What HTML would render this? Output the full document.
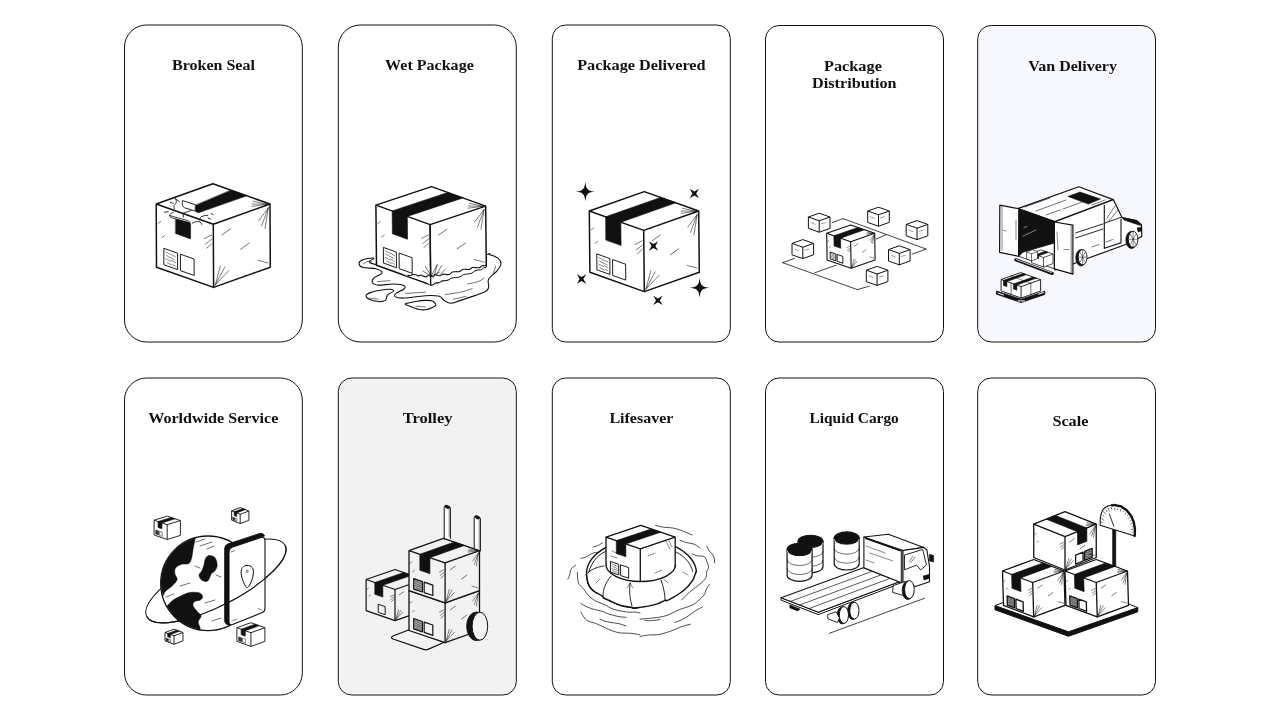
<!DOCTYPE html>
<html><head><meta charset="utf-8"><style>
html,body{margin:0;padding:0;background:#fff;width:1280px;height:720px;overflow:hidden}
svg{position:absolute;left:0;top:0;will-change:transform}
text{font-family:"Liberation Serif",serif;font-weight:bold;font-size:15.2px;fill:#111}
</style></head><body>
<svg width="1280" height="720" viewBox="0 0 1280 720">
<rect x="124.5" y="25" width="177.8" height="317" rx="22" ry="22" fill="none" stroke="#111" stroke-width="1"/>
<rect x="338.3" y="25" width="177.99999999999994" height="317" rx="22" ry="22" fill="none" stroke="#111" stroke-width="1"/>
<rect x="552.3" y="25" width="178.0" height="317" rx="13.5" ry="13.5" fill="none" stroke="#111" stroke-width="1"/>
<rect x="765.5" y="25.5" width="178.0" height="316.5" rx="13.5" ry="13.5" fill="none" stroke="#111" stroke-width="1"/>
<rect x="978.9000000000001" y="26.7" width="175.39999999999995" height="314.1" rx="12.3" ry="12.3" fill="#f7f8fd" stroke="none"/>
<rect x="977.7" y="25.5" width="177.79999999999995" height="316.5" rx="13.5" ry="13.5" fill="none" stroke="#111" stroke-width="1"/>
<rect x="124.5" y="378" width="177.8" height="317" rx="22" ry="22" fill="none" stroke="#111" stroke-width="1"/>
<rect x="339.5" y="379.2" width="175.59999999999994" height="314.6" rx="12.3" ry="12.3" fill="#f2f2f2" stroke="none"/>
<rect x="338.3" y="378" width="177.99999999999994" height="317" rx="13.5" ry="13.5" fill="none" stroke="#111" stroke-width="1"/>
<rect x="552.3" y="378" width="178.0" height="317" rx="13.5" ry="13.5" fill="none" stroke="#111" stroke-width="1"/>
<rect x="765.5" y="378" width="178.0" height="317" rx="13.5" ry="13.5" fill="none" stroke="#111" stroke-width="1"/>
<rect x="977.7" y="378" width="177.79999999999995" height="317" rx="13.5" ry="13.5" fill="none" stroke="#111" stroke-width="1"/>
<text x="172.0" y="69.9" textLength="82.9" lengthAdjust="spacingAndGlyphs">Broken Seal</text>
<text x="385.1" y="69.9" textLength="88.7" lengthAdjust="spacingAndGlyphs">Wet Package</text>
<text x="577.2" y="70.0" textLength="128.4" lengthAdjust="spacingAndGlyphs">Package Delivered</text>
<text x="824.0" y="70.8" textLength="57.9" lengthAdjust="spacingAndGlyphs">Package</text>
<text x="812.1" y="87.8" textLength="84.5" lengthAdjust="spacingAndGlyphs">Distribution</text>
<text x="1028.3" y="70.8" textLength="88.6" lengthAdjust="spacingAndGlyphs">Van Delivery</text>
<text x="148.2" y="422.9" textLength="130.1" lengthAdjust="spacingAndGlyphs">Worldwide Service</text>
<text x="402.8" y="422.8" textLength="49.7" lengthAdjust="spacingAndGlyphs">Trolley</text>
<text x="609.4" y="422.8" textLength="64.0" lengthAdjust="spacingAndGlyphs">Lifesaver</text>
<text x="809.5" y="423.0" textLength="89.3" lengthAdjust="spacingAndGlyphs">Liquid Cargo</text>
<text x="1052.4" y="425.8" textLength="36.0" lengthAdjust="spacingAndGlyphs">Scale</text>
<g>
<polygon points="212.90,183.80 156.20,204.00 156.50,267.20 213.60,287.40 270.30,267.20 270.00,204.00" fill="#fff" stroke="#111" stroke-width="1.5" stroke-linejoin="round" />
<polyline points="156.20,204.00 213.30,224.20 270.00,204.00" fill="none" stroke="#111" stroke-width="1.5" stroke-linejoin="round"/>
<line x1="213.30" y1="224.20" x2="213.60" y2="287.40" stroke="#111" stroke-width="1.5" stroke-linecap="round" />
<polygon points="163.82,248.34 177.53,253.19 177.60,269.62 163.90,264.77" fill="#fff" stroke="#111" stroke-width="0.95" stroke-linejoin="round" />
<line x1="165.89" y1="252.02" x2="171.38" y2="254.78" stroke="#111" stroke-width="0.49500000000000005" stroke-linecap="round" />
<line x1="172.06" y1="254.86" x2="175.49" y2="256.90" stroke="#111" stroke-width="0.49500000000000005" stroke-linecap="round" />
<line x1="166.59" y1="255.55" x2="170.02" y2="257.59" stroke="#111" stroke-width="0.49500000000000005" stroke-linecap="round" />
<line x1="170.71" y1="257.66" x2="174.82" y2="259.94" stroke="#111" stroke-width="0.49500000000000005" stroke-linecap="round" />
<line x1="165.92" y1="258.92" x2="170.72" y2="261.44" stroke="#111" stroke-width="0.49500000000000005" stroke-linecap="round" />
<line x1="171.40" y1="260.53" x2="175.52" y2="262.81" stroke="#111" stroke-width="0.49500000000000005" stroke-linecap="round" />
<line x1="167.31" y1="262.70" x2="172.11" y2="265.21" stroke="#111" stroke-width="0.49500000000000005" stroke-linecap="round" />
<line x1="172.79" y1="264.31" x2="175.53" y2="266.10" stroke="#111" stroke-width="0.49500000000000005" stroke-linecap="round" />
<polygon points="180.38,254.20 194.08,259.04 194.16,275.48 180.46,270.63" fill="none" stroke="#111" stroke-width="0.95" stroke-linejoin="round" />
<line x1="268.31" y1="207.77" x2="258.72" y2="220.68" stroke="#111" stroke-width="0.55" stroke-linecap="round" />
<line x1="268.31" y1="207.77" x2="261.58" y2="225.99" stroke="#111" stroke-width="0.55" stroke-linecap="round" />
<line x1="268.31" y1="207.77" x2="265.00" y2="228.57" stroke="#111" stroke-width="0.55" stroke-linecap="round" />
<line x1="267.16" y1="204.20" x2="251.79" y2="204.00" stroke="#111" stroke-width="0.55" stroke-linecap="round" />
<line x1="267.16" y1="204.20" x2="251.82" y2="206.42" stroke="#111" stroke-width="0.55" stroke-linecap="round" />
<line x1="267.16" y1="204.20" x2="252.90" y2="201.17" stroke="#111" stroke-width="0.55" stroke-linecap="round" />
<line x1="215.29" y1="284.90" x2="224.86" y2="266.93" stroke="#111" stroke-width="0.55" stroke-linecap="round" />
<line x1="215.29" y1="284.90" x2="228.86" y2="270.57" stroke="#111" stroke-width="0.55" stroke-linecap="round" />
<line x1="215.29" y1="284.90" x2="220.31" y2="266.02" stroke="#111" stroke-width="0.55" stroke-linecap="round" />
<line x1="211.64" y1="234.97" x2="204.25" y2="238.66" stroke="#111" stroke-width="0.55" stroke-linecap="round" />
<line x1="211.66" y1="239.39" x2="205.41" y2="244.12" stroke="#111" stroke-width="0.55" stroke-linecap="round" />
<line x1="211.68" y1="243.82" x2="206.57" y2="248.32" stroke="#111" stroke-width="0.55" stroke-linecap="round" />
<line x1="221.87" y1="235.07" x2="230.36" y2="228.88" stroke="#111" stroke-width="0.6050000000000001" stroke-linecap="round" />
<line x1="240.68" y1="249.26" x2="249.17" y2="243.07" stroke="#111" stroke-width="0.6050000000000001" stroke-linecap="round" />
<line x1="257.77" y1="260.27" x2="268.01" y2="262.95" stroke="#111" stroke-width="0.55" stroke-linecap="round" />
<line x1="160.84" y1="221.42" x2="158.00" y2="223.57" stroke="#111" stroke-width="0.55" stroke-linecap="round" />
<line x1="164.90" y1="235.47" x2="162.06" y2="237.62" stroke="#111" stroke-width="0.55" stroke-linecap="round" />
<path d="M230.9,190.2 L246.9,195.8 L199.2,212.6 C197.0,213.4 195.3,211.6 195.4,209.0 C195.5,207.4 195.6,206.2 195.8,205.2 Z" fill="#111" stroke="#111" stroke-width="0.5" stroke-linejoin="round" stroke-linecap="round" />
<path d="M182.4,201.0 C181.8,203.6 182.4,206.6 184.6,207.8 L195.8,211.2 C195.0,209.4 195.0,207.0 195.6,205.2 Z" fill="#fff" stroke="#111" stroke-width="0.9" stroke-linejoin="round" stroke-linecap="round" />
<path d="M175.6,218.3 L189.0,222.0 C190.2,222.4 190.6,223.2 190.6,224.4 L190.6,238.9 L175.6,233.6 Z" fill="#111" stroke="#111" stroke-width="0.5" stroke-linejoin="round" stroke-linecap="round" />
<path d="M169.8,215.6 L187.8,220.6 C189.4,221.1 190.2,222.0 189.6,222.6 L172.0,217.9 C170.4,217.5 169.4,216.6 169.8,215.6 Z" fill="#fff" stroke="#111" stroke-width="0.8" stroke-linejoin="round" stroke-linecap="round" />
<path d="M175,198.3 C176.4,200 176.6,201.6 176.1,202.8 C175.4,204.4 174,205 173.9,206.1 C173.8,207 174.3,208 174.4,208.9" fill="none" stroke="#111" stroke-width="0.85" stroke-linejoin="round" stroke-linecap="round" />
<path d="M175.6,198.9 L179.4,201.7" fill="none" stroke="#111" stroke-width="0.85" stroke-linejoin="round" stroke-linecap="round" />
<path d="M170,202.2 L173.3,203.3" fill="none" stroke="#111" stroke-width="0.85" stroke-linejoin="round" stroke-linecap="round" />
<path d="M183.3,213.3 C186,212 188.5,211.2 191.1,210.6" fill="none" stroke="#111" stroke-width="0.85" stroke-linejoin="round" stroke-linecap="round" />
<path d="M183.3,214.4 L183.3,217.2" fill="none" stroke="#111" stroke-width="0.85" stroke-linejoin="round" stroke-linecap="round" />
<path d="M170,214.4 L173.3,212.2" fill="none" stroke="#111" stroke-width="0.85" stroke-linejoin="round" stroke-linecap="round" />
<path d="M199.4,220 C200,218.6 200.6,217.4 201.1,216.7 C203,215.8 205.5,215.4 207.8,215.3" fill="none" stroke="#111" stroke-width="0.85" stroke-linejoin="round" stroke-linecap="round" />
<path d="M192.2,223.3 C193.5,222.4 194.5,221.8 195.6,221.7 C197.5,221.5 199,221.6 200,221.9 C200.8,222.6 201.4,223.4 201.7,224.4" fill="none" stroke="#111" stroke-width="0.85" stroke-linejoin="round" stroke-linecap="round" />
<path d="M164.4,212.2 L168.3,211.7" fill="none" stroke="#111" stroke-width="0.85" stroke-linejoin="round" stroke-linecap="round" />
<path d="M211,213.5 L213,214.5" fill="none" stroke="#111" stroke-width="0.85" stroke-linejoin="round" stroke-linecap="round" />
<path d="M208,218 L210.5,219" fill="none" stroke="#111" stroke-width="0.85" stroke-linejoin="round" stroke-linecap="round" />
</g>
<g>
<path d="M373.75,258.20 C371.80,257.52 364.47,258.98 362.03,259.96 C359.59,260.94 358.91,262.79 359.10,264.06 C359.30,265.33 360.37,266.80 363.20,267.58 C366.04,268.36 372.97,267.87 376.09,268.75 C379.22,269.63 382.34,271.29 381.95,272.85 C381.56,274.42 375.31,276.47 373.75,278.13 C372.19,279.79 371.80,281.64 372.58,282.81 C373.36,283.99 374.92,284.96 378.44,285.16 C381.95,285.35 389.38,283.89 393.67,283.99 C397.97,284.08 402.56,284.86 404.22,285.74 C405.88,286.62 405.00,287.99 403.63,289.26 C402.27,290.53 397.38,292.09 396.02,293.36 C394.65,294.63 394.06,296.10 395.43,296.88 C396.80,297.66 399.24,298.24 404.22,298.05 C409.20,297.85 419.46,296.00 425.32,295.70 C431.17,295.41 436.25,295.51 439.38,296.29 C442.50,297.07 442.11,299.22 444.07,300.39 C446.02,301.56 448.36,303.32 451.10,303.32 C453.83,303.32 455.00,302.25 460.47,300.39 C465.94,298.54 479.22,294.34 483.91,292.19 C488.60,290.04 487.82,289.65 488.60,287.50 C489.38,285.35 487.23,282.03 488.60,279.30 C489.97,276.56 494.75,273.63 496.80,271.09 C498.85,268.56 500.71,266.21 500.90,264.06 C501.10,261.91 499.83,259.77 497.97,258.20 C496.12,256.64 491.92,255.18 489.77,254.69 C487.62,254.20 493.87,252.15 485.08,255.27 C476.29,258.40 455.59,271.97 437.03,273.44 C418.48,274.90 384.30,266.60 373.75,264.06 C363.20,261.52 375.70,258.89 373.75,258.20 Z" fill="#fff" stroke="#111" stroke-width="1.1" stroke-linejoin="round" stroke-linecap="round" />
<path d="M366.13,295.12 C366.52,293.95 369.36,292.97 371.41,292.19 C373.46,291.41 375.31,290.92 378.44,290.43 C381.56,289.94 387.62,289.16 390.16,289.26 C392.70,289.36 393.87,290.24 393.67,291.02 C393.48,291.80 390.16,292.97 388.99,293.95 C387.81,294.92 387.23,295.80 386.64,296.88 C386.06,297.95 386.84,299.61 385.47,300.39 C384.10,301.17 381.17,301.76 378.44,301.56 C375.70,301.37 371.11,300.29 369.06,299.22 C367.01,298.15 365.74,296.29 366.13,295.12 Z" fill="#fff" stroke="#111" stroke-width="1.1" stroke-linejoin="round" stroke-linecap="round" />
<path d="M405.39,303.91 C406.37,303.13 412.62,302.15 415.94,301.56 C419.26,300.98 422.58,300.49 425.32,300.39 C428.05,300.29 430.59,300.20 432.35,300.98 C434.10,301.76 435.86,304.01 435.86,305.08 C435.86,306.15 434.10,306.64 432.35,307.42 C430.59,308.21 427.66,309.47 425.32,309.77 C422.97,310.06 420.82,309.77 418.28,309.18 C415.74,308.60 412.23,307.13 410.08,306.25 C407.93,305.37 404.42,304.69 405.39,303.91 Z" fill="#fff" stroke="#111" stroke-width="1.1" stroke-linejoin="round" stroke-linecap="round" />
<path d="M363.20,264.06 C363.79,263.67 365.35,262.21 366.72,261.72 C368.09,261.23 370.63,261.23 371.41,261.13" fill="none" stroke="#111" stroke-width="0.6" stroke-linejoin="round" stroke-linecap="round" />
<path d="M377.27,281.64 C378.44,281.54 382.15,281.21 384.30,281.06 C386.45,280.90 389.18,280.76 390.16,280.70" fill="none" stroke="#111" stroke-width="0.6" stroke-linejoin="round" stroke-linecap="round" />
<path d="M405.39,293.36 C407.15,293.26 412.62,292.97 415.94,292.78 C419.26,292.58 423.75,292.29 425.32,292.19" fill="none" stroke="#111" stroke-width="0.6" stroke-linejoin="round" stroke-linecap="round" />
<path d="M445.24,294.53 C447.78,294.14 455.98,293.17 460.47,292.19 C464.97,291.21 470.24,289.26 472.19,288.67" fill="none" stroke="#111" stroke-width="0.6" stroke-linejoin="round" stroke-linecap="round" />
<path d="M467.50,283.99 C469.26,283.60 475.32,282.62 478.05,281.64 C480.79,280.67 482.93,278.71 483.91,278.13" fill="none" stroke="#111" stroke-width="0.6" stroke-linejoin="round" stroke-linecap="round" />
<path d="M493.29,273.44 C493.68,272.27 495.24,267.58 495.63,266.41" fill="none" stroke="#111" stroke-width="0.6" stroke-linejoin="round" stroke-linecap="round" />
<path d="M369.06,298.05 C370.63,298.24 376.88,299.03 378.44,299.22" fill="none" stroke="#111" stroke-width="0.6" stroke-linejoin="round" stroke-linecap="round" />
<path d="M415.94,306.25 C417.50,306.35 423.75,306.74 425.32,306.84" fill="none" stroke="#111" stroke-width="0.6" stroke-linejoin="round" stroke-linecap="round" />
<path d="M453.44,299.22 C455.59,298.73 464.18,296.78 466.33,296.29" fill="none" stroke="#111" stroke-width="0.6" stroke-linejoin="round" stroke-linecap="round" />
<polygon points="431.50,186.60 375.90,205.10 376.50,265.30 430.70,284.80 486.30,266.30 485.70,206.10" fill="#fff" stroke="#111" stroke-width="1.5" stroke-linejoin="round" />
<polyline points="375.90,205.10 430.10,224.60 485.70,206.10" fill="none" stroke="#111" stroke-width="1.5" stroke-linejoin="round"/>
<line x1="430.10" y1="224.60" x2="430.70" y2="284.80" stroke="#111" stroke-width="1.5" stroke-linecap="round" />
<polygon points="407.34,216.41 462.94,197.91 447.76,192.45 392.16,210.95" fill="#111" stroke="#111" stroke-width="0.6" stroke-linejoin="round" />
<polygon points="407.34,216.41 392.16,210.95 392.39,233.83 407.56,239.29" fill="#111" stroke="#111" stroke-width="0.6" stroke-linejoin="round" />
<polygon points="383.34,247.37 396.35,252.05 396.51,267.70 383.50,263.02" fill="#fff" stroke="#111" stroke-width="0.95" stroke-linejoin="round" />
<line x1="385.32" y1="250.89" x2="390.53" y2="253.54" stroke="#111" stroke-width="0.49500000000000005" stroke-linecap="round" />
<line x1="391.18" y1="253.62" x2="394.44" y2="255.57" stroke="#111" stroke-width="0.49500000000000005" stroke-linecap="round" />
<line x1="386.00" y1="254.25" x2="389.26" y2="256.20" stroke="#111" stroke-width="0.49500000000000005" stroke-linecap="round" />
<line x1="389.91" y1="256.28" x2="393.82" y2="258.47" stroke="#111" stroke-width="0.49500000000000005" stroke-linecap="round" />
<line x1="385.39" y1="257.46" x2="389.95" y2="259.88" stroke="#111" stroke-width="0.49500000000000005" stroke-linecap="round" />
<line x1="390.59" y1="259.02" x2="394.50" y2="261.21" stroke="#111" stroke-width="0.49500000000000005" stroke-linecap="round" />
<line x1="386.72" y1="261.06" x2="391.28" y2="263.48" stroke="#111" stroke-width="0.49500000000000005" stroke-linecap="round" />
<line x1="391.92" y1="262.62" x2="394.53" y2="264.34" stroke="#111" stroke-width="0.49500000000000005" stroke-linecap="round" />
<polygon points="399.06,253.02 412.07,257.70 412.22,273.35 399.22,268.67" fill="none" stroke="#111" stroke-width="0.95" stroke-linejoin="round" />
<line x1="484.06" y1="209.66" x2="474.70" y2="221.84" stroke="#111" stroke-width="0.55" stroke-linecap="round" />
<line x1="484.06" y1="209.66" x2="477.54" y2="226.94" stroke="#111" stroke-width="0.55" stroke-linecap="round" />
<line x1="484.06" y1="209.66" x2="480.91" y2="229.44" stroke="#111" stroke-width="0.55" stroke-linecap="round" />
<line x1="482.95" y1="206.27" x2="468.13" y2="205.94" stroke="#111" stroke-width="0.55" stroke-linecap="round" />
<line x1="482.95" y1="206.27" x2="468.05" y2="208.22" stroke="#111" stroke-width="0.55" stroke-linecap="round" />
<line x1="482.95" y1="206.27" x2="469.33" y2="203.29" stroke="#111" stroke-width="0.55" stroke-linecap="round" />
<line x1="432.35" y1="282.44" x2="441.66" y2="265.45" stroke="#111" stroke-width="0.55" stroke-linecap="round" />
<line x1="432.35" y1="282.44" x2="445.60" y2="268.97" stroke="#111" stroke-width="0.55" stroke-linecap="round" />
<line x1="432.35" y1="282.44" x2="437.19" y2="264.52" stroke="#111" stroke-width="0.55" stroke-linecap="round" />
<line x1="428.58" y1="234.85" x2="421.60" y2="238.34" stroke="#111" stroke-width="0.55" stroke-linecap="round" />
<line x1="428.62" y1="239.06" x2="422.73" y2="243.54" stroke="#111" stroke-width="0.55" stroke-linecap="round" />
<line x1="428.67" y1="243.28" x2="423.85" y2="247.54" stroke="#111" stroke-width="0.55" stroke-linecap="round" />
<line x1="438.57" y1="235.07" x2="446.88" y2="229.28" stroke="#111" stroke-width="0.6050000000000001" stroke-linecap="round" />
<line x1="457.12" y1="248.83" x2="465.43" y2="243.04" stroke="#111" stroke-width="0.6050000000000001" stroke-linecap="round" />
<line x1="473.96" y1="259.53" x2="484.03" y2="262.22" stroke="#111" stroke-width="0.55" stroke-linecap="round" />
<line x1="380.39" y1="221.71" x2="377.71" y2="223.75" stroke="#111" stroke-width="0.55" stroke-linecap="round" />
<line x1="384.30" y1="235.12" x2="381.62" y2="237.15" stroke="#111" stroke-width="0.55" stroke-linecap="round" />
<polygon points="401.88,274.02 407.74,275.20 415.94,274.84 422.97,276.02 431.17,276.37 437.03,275.20 446.41,274.61 455.79,271.68 466.33,269.34 475.71,267.58 486.02,265.82 486.02,267.58 479.22,269.92 467.50,274.02 455.79,277.54 444.07,280.70 437.03,282.81 431.17,285.16 425.32,281.64 415.94,278.71 407.74,276.02 401.88,274.02" fill="#fff" stroke="none" stroke-width="0" stroke-linejoin="round" />
<path d="M407.74,275.20 C408.19,275.29 409.58,275.93 410.47,275.78 C411.37,275.62 412.21,274.42 413.12,274.26 C414.03,274.11 415.10,274.57 415.94,274.84 C416.78,275.12 417.35,275.91 418.15,275.92 C418.94,275.94 419.89,274.91 420.70,274.93 C421.50,274.94 422.15,275.70 422.97,276.02 C423.80,276.33 424.74,276.91 425.65,276.83 C426.56,276.75 427.49,275.63 428.42,275.55 C429.34,275.47 430.37,276.18 431.17,276.37 C431.98,276.55 432.62,276.91 433.25,276.67 C433.87,276.42 434.27,275.15 434.90,274.91 C435.54,274.66 436.16,275.06 437.03,275.20 C437.91,275.33 439.15,275.88 440.17,275.70 C441.20,275.52 442.14,274.29 443.18,274.11 C444.22,273.93 445.32,274.58 446.41,274.61 C447.50,274.64 448.72,274.75 449.71,274.31 C450.71,273.88 451.38,272.45 452.39,272.01 C453.40,271.57 454.61,271.75 455.79,271.68 C456.96,271.61 458.28,271.96 459.42,271.59 C460.55,271.22 461.44,269.83 462.59,269.45 C463.75,269.07 465.17,269.34 466.33,269.34 C467.49,269.34 468.55,269.75 469.56,269.44 C470.57,269.14 471.37,267.80 472.39,267.49 C473.42,267.18 474.57,267.55 475.71,267.58 C476.85,267.61 478.11,268.00 479.23,267.69 C480.34,267.38 481.26,266.04 482.40,265.73 C483.53,265.42 485.42,265.81 486.02,265.82" fill="none" stroke="#111" stroke-width="1.1" stroke-linejoin="round" stroke-linecap="round" />
<path d="M431.17,285.16 C431.53,285.12 432.72,285.29 433.33,284.94 C433.94,284.59 434.20,283.41 434.82,283.05 C435.44,282.70 436.25,282.87 437.03,282.81 C437.82,282.75 438.78,283.02 439.53,282.69 C440.27,282.36 440.75,281.18 441.50,280.85 C442.26,280.52 442.97,280.81 444.07,280.70 C445.16,280.60 446.83,280.68 448.09,280.24 C449.35,279.79 450.36,278.49 451.64,278.04 C452.93,277.59 454.42,277.72 455.79,277.54 C457.15,277.36 458.56,277.44 459.82,276.95 C461.09,276.47 462.07,275.13 463.35,274.65 C464.63,274.16 466.13,274.26 467.50,274.02 C468.87,273.79 470.31,273.78 471.57,273.24 C472.83,272.69 473.77,271.30 475.04,270.75 C476.32,270.20 478.12,270.10 479.22,269.92 C480.33,269.75 480.95,270.07 481.66,269.72 C482.38,269.36 482.79,268.16 483.51,267.81 C484.24,267.45 485.60,267.62 486.02,267.58" fill="none" stroke="#111" stroke-width="1.0" stroke-linejoin="round" stroke-linecap="round" />
<line x1="430.10" y1="224.60" x2="430.70" y2="284.80" stroke="#111" stroke-width="1.3" stroke-linecap="round" />
<line x1="431.17" y1="276.02" x2="425.32" y2="266.41" stroke="#111" stroke-width="0.6" stroke-linecap="round" />
<line x1="431.17" y1="276.02" x2="437.03" y2="265.23" stroke="#111" stroke-width="0.6" stroke-linecap="round" />
<line x1="431.17" y1="276.02" x2="422.97" y2="271.09" stroke="#111" stroke-width="0.6" stroke-linecap="round" />
<line x1="431.17" y1="276.02" x2="439.38" y2="272.27" stroke="#111" stroke-width="0.6" stroke-linecap="round" />
</g>
<g>
<polygon points="644.30,191.60 589.30,211.00 589.90,272.20 644.30,291.60 699.30,272.20 698.70,211.00" fill="#fff" stroke="#111" stroke-width="1.5" stroke-linejoin="round" />
<polyline points="589.30,211.00 643.70,230.40 698.70,211.00" fill="none" stroke="#111" stroke-width="1.5" stroke-linejoin="round"/>
<line x1="643.70" y1="230.40" x2="644.30" y2="291.60" stroke="#111" stroke-width="1.5" stroke-linecap="round" />
<polygon points="620.85,222.25 675.85,202.85 660.62,197.42 605.62,216.82" fill="#111" stroke="#111" stroke-width="0.6" stroke-linejoin="round" />
<polygon points="620.85,222.25 605.62,216.82 605.85,240.08 621.08,245.51" fill="#111" stroke="#111" stroke-width="0.6" stroke-linejoin="round" />
<polygon points="596.77,253.91 609.82,258.57 609.98,274.48 596.92,269.83" fill="#fff" stroke="#111" stroke-width="0.95" stroke-linejoin="round" />
<line x1="598.75" y1="257.48" x2="603.98" y2="260.13" stroke="#111" stroke-width="0.49500000000000005" stroke-linecap="round" />
<line x1="604.64" y1="260.21" x2="607.91" y2="262.17" stroke="#111" stroke-width="0.49500000000000005" stroke-linecap="round" />
<line x1="599.44" y1="260.89" x2="602.71" y2="262.85" stroke="#111" stroke-width="0.49500000000000005" stroke-linecap="round" />
<line x1="603.36" y1="262.93" x2="607.29" y2="265.12" stroke="#111" stroke-width="0.49500000000000005" stroke-linecap="round" />
<line x1="598.82" y1="264.16" x2="603.40" y2="266.58" stroke="#111" stroke-width="0.49500000000000005" stroke-linecap="round" />
<line x1="604.04" y1="265.70" x2="607.96" y2="267.90" stroke="#111" stroke-width="0.49500000000000005" stroke-linecap="round" />
<line x1="600.16" y1="267.81" x2="604.73" y2="270.23" stroke="#111" stroke-width="0.49500000000000005" stroke-linecap="round" />
<line x1="605.38" y1="269.35" x2="608.00" y2="271.08" stroke="#111" stroke-width="0.49500000000000005" stroke-linecap="round" />
<polygon points="612.54,259.54 625.60,264.20 625.76,280.11 612.70,275.45" fill="none" stroke="#111" stroke-width="0.95" stroke-linejoin="round" />
<line x1="697.08" y1="214.64" x2="687.82" y2="227.12" stroke="#111" stroke-width="0.55" stroke-linecap="round" />
<line x1="697.08" y1="214.64" x2="690.63" y2="232.27" stroke="#111" stroke-width="0.55" stroke-linecap="round" />
<line x1="697.08" y1="214.64" x2="693.97" y2="234.78" stroke="#111" stroke-width="0.55" stroke-linecap="round" />
<line x1="695.96" y1="211.19" x2="681.20" y2="211.00" stroke="#111" stroke-width="0.55" stroke-linecap="round" />
<line x1="695.96" y1="211.19" x2="681.16" y2="213.33" stroke="#111" stroke-width="0.55" stroke-linecap="round" />
<line x1="695.96" y1="211.19" x2="682.33" y2="208.28" stroke="#111" stroke-width="0.55" stroke-linecap="round" />
<line x1="645.93" y1="289.18" x2="655.14" y2="271.81" stroke="#111" stroke-width="0.55" stroke-linecap="round" />
<line x1="645.93" y1="289.18" x2="659.04" y2="275.35" stroke="#111" stroke-width="0.55" stroke-linecap="round" />
<line x1="645.93" y1="289.18" x2="650.72" y2="270.91" stroke="#111" stroke-width="0.55" stroke-linecap="round" />
<line x1="642.18" y1="240.83" x2="635.16" y2="244.43" stroke="#111" stroke-width="0.55" stroke-linecap="round" />
<line x1="642.22" y1="245.12" x2="636.30" y2="249.72" stroke="#111" stroke-width="0.55" stroke-linecap="round" />
<line x1="642.26" y1="249.40" x2="637.42" y2="253.78" stroke="#111" stroke-width="0.55" stroke-linecap="round" />
<line x1="652.08" y1="240.95" x2="660.30" y2="234.98" stroke="#111" stroke-width="0.6050000000000001" stroke-linecap="round" />
<line x1="670.43" y1="254.75" x2="678.65" y2="248.78" stroke="#111" stroke-width="0.6050000000000001" stroke-linecap="round" />
<line x1="687.09" y1="265.45" x2="697.05" y2="268.08" stroke="#111" stroke-width="0.55" stroke-linecap="round" />
<line x1="593.80" y1="227.85" x2="591.11" y2="229.94" stroke="#111" stroke-width="0.55" stroke-linecap="round" />
<line x1="597.73" y1="241.45" x2="595.04" y2="243.54" stroke="#111" stroke-width="0.55" stroke-linecap="round" />
<path d="M585.30,181.90 Q586.26,189.53 587.99,188.91 Q587.37,190.64 595.00,191.60 L595.00,191.60 Q587.37,192.56 587.99,194.29 Q586.26,193.67 585.30,201.30 L585.30,201.30 Q584.34,193.67 582.61,194.29 Q583.23,192.56 575.60,191.60 L575.60,191.60 Q583.23,190.64 582.61,188.91 Q584.34,189.53 585.30,181.90 Z" fill="#111"/>
<path d="M699.60,278.10 Q700.56,285.73 702.29,285.11 Q701.67,286.84 709.30,287.80 L709.30,287.80 Q701.67,288.76 702.29,290.49 Q700.56,289.87 699.60,297.50 L699.60,297.50 Q698.64,289.87 696.91,290.49 Q697.53,288.76 689.90,287.80 L689.90,287.80 Q697.53,286.84 696.91,285.11 Q698.64,285.73 699.60,278.10 Z" fill="#111"/>
<polygon points="698.97,188.83 696.20,193.50 698.97,198.17 694.30,195.40 689.63,198.17 692.40,193.50 689.63,188.83 694.30,191.60" fill="#111"/>
<polygon points="658.17,241.33 655.40,246.00 658.17,250.67 653.50,247.90 648.83,250.67 651.60,246.00 648.83,241.33 653.50,244.10" fill="#111"/>
<polygon points="586.17,274.33 583.40,279.00 586.17,283.67 581.50,280.90 576.83,283.67 579.60,279.00 576.83,274.33 581.50,277.10" fill="#111"/>
<polygon points="662.57,295.73 659.80,300.40 662.57,305.07 657.90,302.30 653.23,305.07 656.00,300.40 653.23,295.73 657.90,298.50" fill="#111"/>
</g>
<g>
<line x1="782.70" y1="262.70" x2="794.40" y2="258.40" stroke="#111" stroke-width="0.8" stroke-linecap="round" />
<line x1="782.70" y1="262.70" x2="857.30" y2="289.60" stroke="#111" stroke-width="0.8" stroke-linecap="round" />
<line x1="857.30" y1="289.60" x2="869.40" y2="286.10" stroke="#111" stroke-width="0.8" stroke-linecap="round" />
<line x1="814.70" y1="272.80" x2="836.20" y2="265.20" stroke="#111" stroke-width="0.8" stroke-linecap="round" />
<line x1="832.30" y1="222.60" x2="843.00" y2="218.60" stroke="#111" stroke-width="0.8" stroke-linecap="round" />
<line x1="843.00" y1="218.60" x2="926.00" y2="249.00" stroke="#111" stroke-width="0.8" stroke-linecap="round" />
<line x1="926.00" y1="249.00" x2="912.20" y2="254.20" stroke="#111" stroke-width="0.8" stroke-linecap="round" />
<line x1="876.10" y1="239.00" x2="886.40" y2="234.60" stroke="#111" stroke-width="0.8" stroke-linecap="round" />
<polygon points="850.70,224.90 826.70,233.30 827.10,259.90 851.10,268.30 875.10,259.90 874.70,233.30" fill="#fff" stroke="#111" stroke-width="1.1" stroke-linejoin="round" />
<polyline points="826.70,233.30 850.70,241.70 874.70,233.30" fill="none" stroke="#111" stroke-width="1.1" stroke-linejoin="round"/>
<line x1="850.70" y1="241.70" x2="851.10" y2="268.30" stroke="#111" stroke-width="1.1" stroke-linecap="round" />
<polygon points="840.62,238.17 864.62,229.77 857.90,227.42 833.90,235.82" fill="#111" stroke="#111" stroke-width="0.6" stroke-linejoin="round" />
<polygon points="840.62,238.17 833.90,235.82 834.05,245.93 840.77,248.28" fill="#111" stroke="#111" stroke-width="0.6" stroke-linejoin="round" />
<polygon points="830.08,251.95 835.84,253.96 835.95,260.88 830.19,258.86" fill="#fff" stroke="#111" stroke-width="0.95" stroke-linejoin="round" />
<line x1="830.97" y1="253.50" x2="833.28" y2="254.65" stroke="#111" stroke-width="0.405" stroke-linecap="round" />
<line x1="833.56" y1="254.68" x2="835.01" y2="255.53" stroke="#111" stroke-width="0.405" stroke-linecap="round" />
<line x1="831.28" y1="254.98" x2="832.72" y2="255.83" stroke="#111" stroke-width="0.405" stroke-linecap="round" />
<line x1="833.01" y1="255.86" x2="834.74" y2="256.81" stroke="#111" stroke-width="0.405" stroke-linecap="round" />
<line x1="831.01" y1="256.40" x2="833.03" y2="257.45" stroke="#111" stroke-width="0.405" stroke-linecap="round" />
<line x1="833.31" y1="257.07" x2="835.05" y2="258.02" stroke="#111" stroke-width="0.405" stroke-linecap="round" />
<line x1="831.61" y1="257.98" x2="833.63" y2="259.04" stroke="#111" stroke-width="0.405" stroke-linecap="round" />
<line x1="833.91" y1="258.65" x2="835.07" y2="259.40" stroke="#111" stroke-width="0.405" stroke-linecap="round" />
<polygon points="837.04,254.38 842.80,256.40 842.91,263.32 837.15,261.30" fill="none" stroke="#111" stroke-width="0.95" stroke-linejoin="round" />
<line x1="874.00" y1="234.88" x2="869.98" y2="240.30" stroke="#111" stroke-width="0.45" stroke-linecap="round" />
<line x1="874.00" y1="234.88" x2="871.22" y2="242.54" stroke="#111" stroke-width="0.45" stroke-linecap="round" />
<line x1="874.00" y1="234.88" x2="872.68" y2="243.63" stroke="#111" stroke-width="0.45" stroke-linecap="round" />
<line x1="873.50" y1="233.38" x2="867.02" y2="233.30" stroke="#111" stroke-width="0.45" stroke-linecap="round" />
<line x1="873.50" y1="233.38" x2="867.02" y2="234.31" stroke="#111" stroke-width="0.45" stroke-linecap="round" />
<line x1="873.50" y1="233.38" x2="867.50" y2="232.12" stroke="#111" stroke-width="0.45" stroke-linecap="round" />
<line x1="851.81" y1="267.25" x2="855.80" y2="259.70" stroke="#111" stroke-width="0.45" stroke-linecap="round" />
<line x1="851.81" y1="267.25" x2="857.51" y2="261.24" stroke="#111" stroke-width="0.45" stroke-linecap="round" />
<line x1="851.81" y1="267.25" x2="853.86" y2="259.31" stroke="#111" stroke-width="0.45" stroke-linecap="round" />
<line x1="850.05" y1="246.24" x2="846.97" y2="247.80" stroke="#111" stroke-width="0.45" stroke-linecap="round" />
<line x1="850.08" y1="248.10" x2="847.48" y2="250.10" stroke="#111" stroke-width="0.45" stroke-linecap="round" />
<line x1="850.11" y1="249.96" x2="847.99" y2="251.86" stroke="#111" stroke-width="0.45" stroke-linecap="round" />
<line x1="854.39" y1="246.29" x2="857.97" y2="243.70" stroke="#111" stroke-width="0.49500000000000005" stroke-linecap="round" />
<line x1="862.44" y1="252.30" x2="866.02" y2="249.71" stroke="#111" stroke-width="0.49500000000000005" stroke-linecap="round" />
<line x1="869.75" y1="256.96" x2="874.11" y2="258.11" stroke="#111" stroke-width="0.45" stroke-linecap="round" />
<line x1="828.72" y1="240.62" x2="827.54" y2="241.53" stroke="#111" stroke-width="0.45" stroke-linecap="round" />
<line x1="830.48" y1="246.53" x2="829.30" y2="247.44" stroke="#111" stroke-width="0.45" stroke-linecap="round" />
<polygon points="819.20,213.20 808.40,217.00 808.40,228.40 819.20,232.20 830.00,228.40 830.00,217.00" fill="#fff" stroke="#111" stroke-width="1.0" stroke-linejoin="round" />
<polyline points="808.40,217.00 819.20,220.80 830.00,217.00" fill="none" stroke="#111" stroke-width="1.0" stroke-linejoin="round"/>
<line x1="819.20" y1="220.80" x2="819.20" y2="232.20" stroke="#111" stroke-width="1.0" stroke-linecap="round" />
<line x1="821.20" y1="223.80" x2="825.20" y2="222.80" stroke="#111" stroke-width="0.4" stroke-linecap="round" />
<line x1="811.20" y1="222.80" x2="815.20" y2="224.30" stroke="#111" stroke-width="0.4" stroke-linecap="round" />
<polygon points="878.50,207.20 867.70,211.00 867.70,222.40 878.50,226.20 889.30,222.40 889.30,211.00" fill="#fff" stroke="#111" stroke-width="1.0" stroke-linejoin="round" />
<polyline points="867.70,211.00 878.50,214.80 889.30,211.00" fill="none" stroke="#111" stroke-width="1.0" stroke-linejoin="round"/>
<line x1="878.50" y1="214.80" x2="878.50" y2="226.20" stroke="#111" stroke-width="1.0" stroke-linecap="round" />
<line x1="880.50" y1="217.80" x2="884.50" y2="216.80" stroke="#111" stroke-width="0.4" stroke-linecap="round" />
<line x1="870.50" y1="216.80" x2="874.50" y2="218.30" stroke="#111" stroke-width="0.4" stroke-linecap="round" />
<polygon points="917.00,220.60 906.20,224.40 906.20,235.80 917.00,239.60 927.80,235.80 927.80,224.40" fill="#fff" stroke="#111" stroke-width="1.0" stroke-linejoin="round" />
<polyline points="906.20,224.40 917.00,228.20 927.80,224.40" fill="none" stroke="#111" stroke-width="1.0" stroke-linejoin="round"/>
<line x1="917.00" y1="228.20" x2="917.00" y2="239.60" stroke="#111" stroke-width="1.0" stroke-linecap="round" />
<line x1="919.00" y1="231.20" x2="923.00" y2="230.20" stroke="#111" stroke-width="0.4" stroke-linecap="round" />
<line x1="909.00" y1="230.20" x2="913.00" y2="231.70" stroke="#111" stroke-width="0.4" stroke-linecap="round" />
<polygon points="802.80,239.60 792.00,243.40 792.00,254.80 802.80,258.60 813.60,254.80 813.60,243.40" fill="#fff" stroke="#111" stroke-width="1.0" stroke-linejoin="round" />
<polyline points="792.00,243.40 802.80,247.20 813.60,243.40" fill="none" stroke="#111" stroke-width="1.0" stroke-linejoin="round"/>
<line x1="802.80" y1="247.20" x2="802.80" y2="258.60" stroke="#111" stroke-width="1.0" stroke-linecap="round" />
<line x1="804.80" y1="250.20" x2="808.80" y2="249.20" stroke="#111" stroke-width="0.4" stroke-linecap="round" />
<line x1="794.80" y1="249.20" x2="798.80" y2="250.70" stroke="#111" stroke-width="0.4" stroke-linecap="round" />
<polygon points="899.30,245.80 888.50,249.60 888.50,261.00 899.30,264.80 910.10,261.00 910.10,249.60" fill="#fff" stroke="#111" stroke-width="1.0" stroke-linejoin="round" />
<polyline points="888.50,249.60 899.30,253.40 910.10,249.60" fill="none" stroke="#111" stroke-width="1.0" stroke-linejoin="round"/>
<line x1="899.30" y1="253.40" x2="899.30" y2="264.80" stroke="#111" stroke-width="1.0" stroke-linecap="round" />
<line x1="901.30" y1="256.40" x2="905.30" y2="255.40" stroke="#111" stroke-width="0.4" stroke-linecap="round" />
<line x1="891.30" y1="255.40" x2="895.30" y2="256.90" stroke="#111" stroke-width="0.4" stroke-linecap="round" />
<polygon points="877.10,266.40 866.30,270.20 866.30,281.60 877.10,285.40 887.90,281.60 887.90,270.20" fill="#fff" stroke="#111" stroke-width="1.0" stroke-linejoin="round" />
<polyline points="866.30,270.20 877.10,274.00 887.90,270.20" fill="none" stroke="#111" stroke-width="1.0" stroke-linejoin="round"/>
<line x1="877.10" y1="274.00" x2="877.10" y2="285.40" stroke="#111" stroke-width="1.0" stroke-linecap="round" />
<line x1="879.10" y1="277.00" x2="883.10" y2="276.00" stroke="#111" stroke-width="0.4" stroke-linecap="round" />
<line x1="869.10" y1="276.00" x2="873.10" y2="277.50" stroke="#111" stroke-width="0.4" stroke-linecap="round" />
</g>
<g>
<line x1="1015.80" y1="259.80" x2="1052.20" y2="273.40" stroke="#111" stroke-width="3.2" stroke-linecap="round" />
<line x1="1016.50" y1="259.60" x2="1051.50" y2="272.60" stroke="#ddd" stroke-width="0.9" stroke-linecap="round" />
<polygon points="1017.80,208.60 1078.80,186.80 1113.30,199.60 1055.10,221.60" fill="#fff" stroke="#111" stroke-width="1.2" stroke-linejoin="round" />
<polygon points="1067.90,196.40 1080.00,192.00 1100.50,199.00 1088.40,204.10" fill="#111" stroke="#111" stroke-width="0.6" stroke-linejoin="round" />
<line x1="1025.00" y1="207.00" x2="1050.00" y2="198.00" stroke="#111" stroke-width="0.6" stroke-linecap="round" />
<line x1="1036.00" y1="211.00" x2="1066.00" y2="200.00" stroke="#111" stroke-width="0.6" stroke-linecap="round" />
<line x1="1046.00" y1="215.00" x2="1060.00" y2="210.00" stroke="#111" stroke-width="0.6" stroke-linecap="round" />
<line x1="1063.00" y1="209.00" x2="1085.00" y2="201.00" stroke="#111" stroke-width="0.6" stroke-linecap="round" />
<line x1="1092.00" y1="205.00" x2="1105.00" y2="200.00" stroke="#111" stroke-width="0.6" stroke-linecap="round" />
<polygon points="1055.10,221.60 1113.30,199.60 1122.00,217.50 1136.50,220.50 1141.50,225.00 1141.80,236.50 1138.00,238.50 1127.00,244.00 1090.00,257.50 1073.00,264.00 1055.00,270.00" fill="#fff" stroke="#111" stroke-width="1.2" stroke-linejoin="round" />
<polygon points="1122.00,217.50 1136.50,220.50 1141.50,225.00 1139.50,225.20 1124.00,220.00" fill="#111" stroke="#111" stroke-width="0.6" stroke-linejoin="round" />
<polygon points="1137.00,228.00 1141.50,227.00 1141.80,231.00 1138.00,232.00" fill="#111" stroke="#111" stroke-width="0.4" stroke-linejoin="round" />
<polyline points="1104.3,205 1104.3,248.2 1121,242.8 1121,218.5" fill="none" stroke="#111" stroke-width="1.1"/>
<line x1="1105.00" y1="223.00" x2="1120.50" y2="217.50" stroke="#111" stroke-width="0.9" stroke-linecap="round" />
<line x1="1107.00" y1="218.00" x2="1115.00" y2="206.00" stroke="#111" stroke-width="0.6" stroke-linecap="round" />
<line x1="1109.00" y1="221.00" x2="1118.00" y2="210.00" stroke="#111" stroke-width="0.6" stroke-linecap="round" />
<line x1="1075.60" y1="232.90" x2="1103.10" y2="223.90" stroke="#111" stroke-width="0.9" stroke-linecap="round" />
<line x1="1075.60" y1="238.00" x2="1103.10" y2="229.00" stroke="#111" stroke-width="0.9" stroke-linecap="round" />
<line x1="1106.00" y1="242.00" x2="1113.00" y2="239.50" stroke="#111" stroke-width="0.6" stroke-linecap="round" />
<line x1="1092.00" y1="247.00" x2="1099.00" y2="244.50" stroke="#111" stroke-width="0.6" stroke-linecap="round" />
<ellipse cx="1131.50" cy="239.90" rx="5.60" ry="8.60" fill="#111" stroke="#111" stroke-width="0.8" />
<ellipse cx="1133.10" cy="239.30" rx="4.80" ry="8.00" fill="#fff" stroke="#111" stroke-width="0.9" />
<line x1="1137.10" y1="239.30" x2="1129.10" y2="239.30" stroke="#111" stroke-width="0.5" stroke-linecap="round" />
<line x1="1135.93" y1="244.53" x2="1130.27" y2="234.07" stroke="#111" stroke-width="0.5" stroke-linecap="round" />
<line x1="1133.10" y1="246.70" x2="1133.10" y2="231.90" stroke="#111" stroke-width="0.5" stroke-linecap="round" />
<line x1="1130.27" y1="244.53" x2="1135.93" y2="234.07" stroke="#111" stroke-width="0.5" stroke-linecap="round" />
<ellipse cx="1081.00" cy="257.80" rx="5.20" ry="8.20" fill="#111" stroke="#111" stroke-width="0.8" />
<ellipse cx="1082.60" cy="257.20" rx="4.40" ry="7.60" fill="#fff" stroke="#111" stroke-width="0.9" />
<line x1="1086.20" y1="257.20" x2="1079.00" y2="257.20" stroke="#111" stroke-width="0.5" stroke-linecap="round" />
<line x1="1085.15" y1="262.15" x2="1080.05" y2="252.25" stroke="#111" stroke-width="0.5" stroke-linecap="round" />
<line x1="1082.60" y1="264.20" x2="1082.60" y2="250.20" stroke="#111" stroke-width="0.5" stroke-linecap="round" />
<line x1="1080.05" y1="262.15" x2="1085.15" y2="252.25" stroke="#111" stroke-width="0.5" stroke-linecap="round" />
<polygon points="1018.80,208.70 1054.40,221.80 1054.40,243.00 1022.70,252.30 1018.80,256.30" fill="#111" stroke="#111" stroke-width="1.0" stroke-linejoin="round" />
<line x1="1023.00" y1="236.00" x2="1036.00" y2="230.00" stroke="#eee" stroke-width="0.5" stroke-linecap="round" />
<line x1="1024.00" y1="227.50" x2="1027.00" y2="226.50" stroke="#eee" stroke-width="0.5" stroke-linecap="round" />
<polygon points="1022.70,252.30 1054.40,243.00 1054.40,268.80 1018.80,256.30" fill="#fff" stroke="#111" stroke-width="0.8" stroke-linejoin="round" />
<polygon points="1041.00,249.80 1031.50,253.20 1031.50,262.70 1043.50,267.00 1053.00,263.60 1053.00,254.10" fill="#fff" stroke="#111" stroke-width="0.7" stroke-linejoin="round" />
<polyline points="1031.50,253.20 1043.50,257.50 1053.00,254.10" fill="none" stroke="#111" stroke-width="0.7" stroke-linejoin="round"/>
<line x1="1043.50" y1="257.50" x2="1043.50" y2="267.00" stroke="#111" stroke-width="0.7" stroke-linecap="round" />
<polygon points="1038.70,255.78 1048.20,252.38 1045.20,251.31 1035.70,254.71" fill="#111" stroke="#111" stroke-width="0.6" stroke-linejoin="round" />
<polygon points="1038.70,255.78 1035.70,254.71 1035.70,257.56 1038.70,258.63" fill="#111" stroke="#111" stroke-width="0.6" stroke-linejoin="round" />
<polygon points="1032.50,249.80 1026.50,252.00 1026.50,259.00 1031.50,260.80 1037.50,258.60 1037.50,251.60" fill="#fff" stroke="#111" stroke-width="0.6" stroke-linejoin="round" />
<polyline points="1026.50,252.00 1031.50,253.80 1037.50,251.60" fill="none" stroke="#111" stroke-width="0.6" stroke-linejoin="round"/>
<line x1="1031.50" y1="253.80" x2="1031.50" y2="260.80" stroke="#111" stroke-width="0.6" stroke-linecap="round" />
<polygon points="999.80,205.20 1018.80,208.70 1018.60,256.30 999.60,252.30" fill="#fff" stroke="#111" stroke-width="1.2" stroke-linejoin="round" />
<line x1="1002.00" y1="206.00" x2="1002.00" y2="250.00" stroke="#111" stroke-width="0.5" stroke-linecap="round" />
<line x1="1016.00" y1="220.00" x2="1016.00" y2="240.00" stroke="#111" stroke-width="0.5" stroke-linecap="round" />
<line x1="1003.00" y1="230.00" x2="1006.00" y2="231.00" stroke="#111" stroke-width="0.5" stroke-linecap="round" />
<polygon points="1054.40,222.00 1072.90,225.20 1072.90,274.10 1054.40,268.80" fill="#fff" stroke="#111" stroke-width="1.2" stroke-linejoin="round" />
<line x1="1071.20" y1="226.00" x2="1071.20" y2="273.40" stroke="#111" stroke-width="0.6" stroke-linecap="round" />
<line x1="1057.00" y1="232.00" x2="1058.00" y2="250.00" stroke="#111" stroke-width="0.5" stroke-linecap="round" />
<line x1="1064.00" y1="249.50" x2="1069.00" y2="249.50" stroke="#111" stroke-width="0.5" stroke-linecap="round" />
<polygon points="996.50,291.00 1021.10,299.20 1044.80,291.20 1044.80,294.40 1021.10,302.60 996.50,294.20" fill="#111" stroke="#111" stroke-width="0.8" stroke-linejoin="round" />
<line x1="998.20" y1="293.20" x2="1003.50" y2="295.00" stroke="#fff" stroke-width="1.0" stroke-linecap="round" />
<line x1="1018.00" y1="300.90" x2="1024.50" y2="300.90" stroke="#fff" stroke-width="1.0" stroke-linecap="round" />
<line x1="1038.50" y1="294.20" x2="1043.50" y2="292.60" stroke="#fff" stroke-width="1.0" stroke-linecap="round" />
<polygon points="1020.60,272.60 1001.10,279.50 1001.10,290.90 1021.10,298.00 1040.60,291.10 1040.60,279.70" fill="#fff" stroke="#111" stroke-width="0.9" stroke-linejoin="round" />
<polyline points="1001.10,279.50 1021.10,286.60 1040.60,279.70" fill="none" stroke="#111" stroke-width="0.9" stroke-linejoin="round"/>
<line x1="1021.10" y1="286.60" x2="1021.10" y2="298.00" stroke="#111" stroke-width="0.9" stroke-linecap="round" />
<polygon points="1006.90,281.56 1026.40,274.66 1023.00,273.45 1003.50,280.35" fill="#111" stroke="#111" stroke-width="0.5" stroke-linejoin="round" />
<polygon points="1006.90,281.56 1003.50,280.35 1003.50,285.48 1006.90,286.69" fill="#111" stroke="#111" stroke-width="0.5" stroke-linejoin="round" />
<polygon points="1016.90,285.11 1036.40,278.21 1033.00,277.00 1013.50,283.90" fill="#111" stroke="#111" stroke-width="0.5" stroke-linejoin="round" />
<polygon points="1016.90,285.11 1013.50,283.90 1013.50,289.03 1016.90,290.24" fill="#111" stroke="#111" stroke-width="0.5" stroke-linejoin="round" />
<line x1="1011.10" y1="294.45" x2="1011.10" y2="283.05" stroke="#111" stroke-width="0.6" stroke-linecap="round" />
<line x1="1030.85" y1="294.55" x2="1030.85" y2="283.15" stroke="#111" stroke-width="0.6" stroke-linecap="round" />
<line x1="1030.85" y1="283.15" x2="1010.85" y2="276.05" stroke="#111" stroke-width="0.5" stroke-linecap="round" />
</g>
<g>
<ellipse cx="215.90" cy="580.90" rx="77.80" ry="24.90" fill="none" stroke="#111" stroke-width="1.0" transform="rotate(-27.2 215.9 580.9)" />
<clipPath id="gclip"><circle cx="208.0" cy="583.3" r="47.0"/></clipPath>
<circle cx="208.0" cy="583.3" r="47.3" fill="#fff" stroke="#111" stroke-width="1.3"/>
<g clip-path="url(#gclip)">
<path d="M196.50,535.00 C204.05,536.33 195.87,535.67 195.30,538.00 C194.73,540.33 193.70,545.72 193.10,549.00 C192.50,552.28 192.42,555.28 191.70,557.70 C190.98,560.12 190.50,562.40 188.80,563.50 C187.10,564.60 183.70,563.57 181.50,564.30 C179.30,565.03 176.70,566.32 175.60,567.90 C174.50,569.48 174.65,571.85 174.90,573.80 C175.15,575.75 177.47,577.67 177.10,579.60 C176.73,581.53 174.65,583.45 172.70,585.40 C170.75,587.35 167.27,589.45 165.40,591.30 C163.53,593.15 164.07,596.72 161.50,596.50 C158.93,596.28 151.92,601.08 150.00,590.00 C148.08,578.92 142.25,539.17 150.00,530.00 C157.75,520.83 188.95,533.67 196.50,535.00 Z" fill="#111" stroke="#111" stroke-width="0.5" stroke-linejoin="round" stroke-linecap="round" />
<path d="M209.20,555.50 C210.78,555.38 213.67,556.12 215.00,557.70 C216.33,559.28 217.20,562.82 217.20,565.00 C217.20,567.18 215.97,569.33 215.00,570.80 C214.03,572.27 212.62,572.10 211.40,573.80 C210.18,575.50 209.28,579.92 207.70,581.00 C206.12,582.08 203.35,581.27 201.90,580.30 C200.45,579.33 199.00,576.78 199.00,575.20 C199.00,573.62 201.05,572.62 201.90,570.80 C202.75,568.98 203.50,566.37 204.10,564.30 C204.70,562.23 204.65,559.87 205.50,558.40 C206.35,556.93 207.62,555.62 209.20,555.50 Z" fill="#111" stroke="#111" stroke-width="0.5" stroke-linejoin="round" stroke-linecap="round" />
<path d="M165.00,608.00 C168.67,604.83 169.75,602.82 172.00,601.00 C174.25,599.18 175.70,598.48 178.50,597.10 C181.30,595.72 185.38,593.43 188.80,592.70 C192.22,591.97 196.70,592.08 199.00,592.70 C201.30,593.32 202.37,595.18 202.60,596.40 C202.83,597.62 201.73,599.15 200.40,600.00 C199.07,600.85 195.82,600.53 194.60,601.50 C193.38,602.47 192.62,604.10 193.10,605.80 C193.58,607.50 196.15,610.00 197.50,611.70 C198.85,613.40 201.08,614.30 201.20,616.00 C201.32,617.70 198.70,619.23 198.20,621.90 C197.70,624.57 202.90,628.98 198.20,632.00 C193.50,635.02 178.03,642.00 170.00,640.00 C161.97,638.00 150.83,625.33 150.00,620.00 C149.17,614.67 161.33,611.17 165.00,608.00 Z" fill="#111" stroke="#111" stroke-width="0.5" stroke-linejoin="round" stroke-linecap="round" />
<line x1="196.00" y1="542.00" x2="205.00" y2="539.00" stroke="#111" stroke-width="0.6" stroke-linecap="round" />
<line x1="200.00" y1="546.00" x2="212.00" y2="542.00" stroke="#111" stroke-width="0.6" stroke-linecap="round" />
<line x1="207.00" y1="549.00" x2="214.00" y2="546.00" stroke="#111" stroke-width="0.6" stroke-linecap="round" />
<line x1="195.00" y1="566.00" x2="200.00" y2="568.00" stroke="#111" stroke-width="0.6" stroke-linecap="round" />
<line x1="180.00" y1="586.00" x2="190.00" y2="583.00" stroke="#111" stroke-width="0.6" stroke-linecap="round" />
<line x1="216.00" y1="575.00" x2="221.00" y2="577.00" stroke="#111" stroke-width="0.6" stroke-linecap="round" />
<line x1="166.00" y1="597.00" x2="174.00" y2="594.00" stroke="#111" stroke-width="0.6" stroke-linecap="round" />
<line x1="205.00" y1="603.00" x2="215.00" y2="600.00" stroke="#111" stroke-width="0.6" stroke-linecap="round" />
<line x1="212.00" y1="621.00" x2="221.00" y2="618.00" stroke="#111" stroke-width="0.6" stroke-linecap="round" />
</g>
<path d="M224.6,550 C224.6,546 226,544.5 229,543.6 L258.5,533.8 C261.5,532.8 264,533.5 264.5,536 L229.5,548.5 L229.5,625 C226.5,625 224.6,623.5 224.6,620 Z" fill="#111" stroke="#111" stroke-width="0.8" stroke-linejoin="round" stroke-linecap="round" />
<path d="M229,551.5 C229,549 230,548 232,547.3 L261,537.5 C263.5,536.8 265,538 265,540.5 L265,608.5 C265,610.8 264,612 261.8,612.8 L232.5,624.5 C230.3,625.3 229,624.5 229,622 Z" fill="#fff" stroke="#111" stroke-width="1.1" stroke-linejoin="round" stroke-linecap="round" />
<line x1="231.00" y1="552.00" x2="235.00" y2="550.50" stroke="#111" stroke-width="0.5" stroke-linecap="round" />
<line x1="258.00" y1="608.50" x2="262.00" y2="610.00" stroke="#111" stroke-width="0.5" stroke-linecap="round" />
<line x1="232.00" y1="621.00" x2="237.00" y2="619.00" stroke="#111" stroke-width="0.5" stroke-linecap="round" />
<path d="M247.3,565.4 C251.8,565.4 253.8,568.6 253.4,573 C253,578.5 250.6,583.8 248.6,586.6 C247.8,587.8 246.6,587.8 245.9,586.6 C244,583.8 241.5,578.5 241.1,573 C240.8,568.6 242.8,565.4 247.3,565.4 Z" fill="#fff" stroke="#111" stroke-width="1.0" stroke-linejoin="round" stroke-linecap="round" />
<circle cx="247.2" cy="571.3" r="1.1" fill="none" stroke="#111" stroke-width="0.6"/>
<path d="M285.10,545.34 A77.8 24.9 -27.2 0 1 146.70,616.46" fill="none" stroke="#111" stroke-width="1.2"/>
<polygon points="167.30,516.10 154.10,520.20 154.10,535.00 167.20,539.50 180.40,535.40 180.40,520.60" fill="#fff" stroke="#111" stroke-width="0.9" stroke-linejoin="round" />
<polyline points="154.10,520.20 167.20,524.70 180.40,520.60" fill="none" stroke="#111" stroke-width="0.9" stroke-linejoin="round"/>
<line x1="167.20" y1="524.70" x2="167.20" y2="539.50" stroke="#111" stroke-width="0.9" stroke-linecap="round" />
<polygon points="161.96,522.90 175.16,518.80 171.23,517.45 158.03,521.55" fill="#111" stroke="#111" stroke-width="0.6" stroke-linejoin="round" />
<polygon points="161.96,522.90 158.03,521.55 158.03,527.47 161.96,528.82" fill="#111" stroke="#111" stroke-width="0.6" stroke-linejoin="round" />
<polygon points="155.67,529.92 158.69,530.95 158.69,535.10 155.67,534.06" fill="#333" stroke="#111" stroke-width="0.4" stroke-linejoin="round" />
<polygon points="159.34,531.18 162.22,532.17 162.22,536.31 159.34,535.32" fill="none" stroke="#111" stroke-width="0.5" stroke-linejoin="round" />
<polygon points="240.30,507.50 231.60,510.80 231.60,520.10 240.20,523.60 248.90,520.30 248.90,511.00" fill="#fff" stroke="#111" stroke-width="0.9" stroke-linejoin="round" />
<polyline points="231.60,510.80 240.20,514.30 248.90,511.00" fill="none" stroke="#111" stroke-width="0.9" stroke-linejoin="round"/>
<line x1="240.20" y1="514.30" x2="240.20" y2="523.60" stroke="#111" stroke-width="0.9" stroke-linecap="round" />
<polygon points="236.76,512.90 245.46,509.60 242.88,508.55 234.18,511.85" fill="#111" stroke="#111" stroke-width="0.6" stroke-linejoin="round" />
<polygon points="236.76,512.90 234.18,511.85 234.18,515.57 236.76,516.62" fill="#111" stroke="#111" stroke-width="0.6" stroke-linejoin="round" />
<polygon points="232.63,516.99 234.61,517.79 234.61,520.39 232.63,519.59" fill="#333" stroke="#111" stroke-width="0.4" stroke-linejoin="round" />
<polygon points="235.04,517.97 236.93,518.74 236.93,521.34 235.04,520.57" fill="none" stroke="#111" stroke-width="0.5" stroke-linejoin="round" />
<polygon points="174.00,629.20 165.00,632.50 165.00,640.90 174.00,644.20 183.00,640.90 183.00,632.50" fill="#fff" stroke="#111" stroke-width="0.9" stroke-linejoin="round" />
<polyline points="165.00,632.50 174.00,635.80 183.00,632.50" fill="none" stroke="#111" stroke-width="0.9" stroke-linejoin="round"/>
<line x1="174.00" y1="635.80" x2="174.00" y2="644.20" stroke="#111" stroke-width="0.9" stroke-linecap="round" />
<polygon points="170.40,634.48 179.40,631.18 176.70,630.19 167.70,633.49" fill="#111" stroke="#111" stroke-width="0.6" stroke-linejoin="round" />
<polygon points="170.40,634.48 167.70,633.49 167.70,636.85 170.40,637.84" fill="#111" stroke="#111" stroke-width="0.6" stroke-linejoin="round" />
<polygon points="166.08,638.10 168.15,638.86 168.15,641.21 166.08,640.46" fill="#333" stroke="#111" stroke-width="0.4" stroke-linejoin="round" />
<polygon points="168.60,639.03 170.58,639.75 170.58,642.11 168.60,641.38" fill="none" stroke="#111" stroke-width="0.5" stroke-linejoin="round" />
<polygon points="250.90,622.70 236.90,627.70 236.90,641.40 250.90,646.40 264.90,641.40 264.90,627.70" fill="#fff" stroke="#111" stroke-width="0.9" stroke-linejoin="round" />
<polyline points="236.90,627.70 250.90,632.70 264.90,627.70" fill="none" stroke="#111" stroke-width="0.9" stroke-linejoin="round"/>
<line x1="250.90" y1="632.70" x2="250.90" y2="646.40" stroke="#111" stroke-width="0.9" stroke-linecap="round" />
<polygon points="245.30,630.70 259.30,625.70 255.10,624.20 241.10,629.20" fill="#111" stroke="#111" stroke-width="0.6" stroke-linejoin="round" />
<polygon points="245.30,630.70 241.10,629.20 241.10,634.68 245.30,636.18" fill="#111" stroke="#111" stroke-width="0.6" stroke-linejoin="round" />
<polygon points="238.58,636.79 241.80,637.94 241.80,641.78 238.58,640.63" fill="#333" stroke="#111" stroke-width="0.4" stroke-linejoin="round" />
<polygon points="242.50,638.19 245.58,639.29 245.58,643.13 242.50,642.03" fill="none" stroke="#111" stroke-width="0.5" stroke-linejoin="round" />
</g>
<g>
<path d="M444.2,538.5 L444.2,507.1 C444.2,505.1 450.4,506.1 450.4,508.1 L450.4,538.5" fill="#fff" stroke="#111" stroke-width="1.0" stroke-linejoin="round" stroke-linecap="round" />
<ellipse cx="447.30" cy="506.90" rx="2.80" ry="1.50" fill="#111" stroke="#111" stroke-width="0.4" transform="rotate(25 447.29999999999995 506.90000000000003)" />
<line x1="449.20" y1="509.60" x2="449.20" y2="536.50" stroke="#111" stroke-width="0.5" stroke-linecap="round" />
<path d="M474.2,551 L474.2,517.5 C474.2,515.5 480.4,516.5 480.4,518.5 L480.4,551" fill="#fff" stroke="#111" stroke-width="1.0" stroke-linejoin="round" stroke-linecap="round" />
<ellipse cx="477.30" cy="517.30" rx="2.80" ry="1.50" fill="#111" stroke="#111" stroke-width="0.4" transform="rotate(25 477.29999999999995 517.3)" />
<line x1="479.20" y1="520.00" x2="479.20" y2="549.00" stroke="#111" stroke-width="0.5" stroke-linecap="round" />
<polygon points="395.00,569.50 366.10,579.50 366.10,610.60 395.00,620.60 423.90,610.60 423.90,579.50" fill="#f2f2f2" stroke="#111" stroke-width="1.2" stroke-linejoin="round" />
<polyline points="366.10,579.50 395.00,589.50 423.90,579.50" fill="none" stroke="#111" stroke-width="1.2" stroke-linejoin="round"/>
<line x1="395.00" y1="589.50" x2="395.00" y2="620.60" stroke="#111" stroke-width="1.2" stroke-linecap="round" />
<polygon points="382.86,585.30 411.76,575.30 403.67,572.50 374.77,582.50" fill="#111" stroke="#111" stroke-width="0.6" stroke-linejoin="round" />
<polygon points="382.86,585.30 374.77,582.50 374.77,594.32 382.86,597.12" fill="#111" stroke="#111" stroke-width="0.6" stroke-linejoin="round" />
<polygon points="378.24,604.23 385.17,606.63 385.17,614.71 378.24,612.31" fill="none" stroke="#111" stroke-width="0.95" stroke-linejoin="round" />
<line x1="423.03" y1="581.35" x2="418.12" y2="587.72" stroke="#111" stroke-width="0.5" stroke-linecap="round" />
<line x1="423.03" y1="581.35" x2="419.56" y2="590.33" stroke="#111" stroke-width="0.5" stroke-linecap="round" />
<line x1="423.03" y1="581.35" x2="421.30" y2="591.60" stroke="#111" stroke-width="0.5" stroke-linecap="round" />
<line x1="422.46" y1="579.60" x2="414.65" y2="579.50" stroke="#111" stroke-width="0.5" stroke-linecap="round" />
<line x1="422.46" y1="579.60" x2="414.65" y2="580.70" stroke="#111" stroke-width="0.5" stroke-linecap="round" />
<line x1="422.46" y1="579.60" x2="415.23" y2="578.10" stroke="#111" stroke-width="0.5" stroke-linecap="round" />
<line x1="395.87" y1="619.37" x2="400.78" y2="610.51" stroke="#111" stroke-width="0.5" stroke-linecap="round" />
<line x1="395.87" y1="619.37" x2="402.80" y2="612.30" stroke="#111" stroke-width="0.5" stroke-linecap="round" />
<line x1="395.87" y1="619.37" x2="398.47" y2="610.07" stroke="#111" stroke-width="0.5" stroke-linecap="round" />
<line x1="394.13" y1="594.80" x2="390.38" y2="596.61" stroke="#111" stroke-width="0.5" stroke-linecap="round" />
<line x1="394.13" y1="596.98" x2="390.95" y2="599.30" stroke="#111" stroke-width="0.5" stroke-linecap="round" />
<line x1="394.13" y1="599.15" x2="391.53" y2="601.36" stroke="#111" stroke-width="0.5" stroke-linecap="round" />
<line x1="399.33" y1="594.84" x2="403.67" y2="591.79" stroke="#111" stroke-width="0.55" stroke-linecap="round" />
<line x1="408.87" y1="601.81" x2="413.21" y2="598.75" stroke="#111" stroke-width="0.55" stroke-linecap="round" />
<line x1="417.54" y1="607.20" x2="422.74" y2="608.51" stroke="#111" stroke-width="0.5" stroke-linecap="round" />
<line x1="368.41" y1="588.07" x2="366.97" y2="589.13" stroke="#111" stroke-width="0.5" stroke-linecap="round" />
<line x1="370.44" y1="595.00" x2="368.99" y2="596.05" stroke="#111" stroke-width="0.5" stroke-linecap="round" />
<path d="M409.1,629.8 L393,636 C391,636.8 391,638.2 393,639 L423.5,649.4 C425,649.9 426.5,649.9 428,649.4 L444.3,642.3 Z" fill="#f2f2f2" stroke="#111" stroke-width="1.2" stroke-linejoin="round" stroke-linecap="round" />
<polygon points="443.40,578.50 409.00,590.70 409.00,630.50 445.10,642.70 479.50,630.50 479.50,590.70" fill="#f2f2f2" stroke="#111" stroke-width="1.3" stroke-linejoin="round" />
<polyline points="409.00,590.70 445.10,602.90 479.50,590.70" fill="none" stroke="#111" stroke-width="1.3" stroke-linejoin="round"/>
<line x1="445.10" y1="602.90" x2="445.10" y2="642.70" stroke="#111" stroke-width="1.3" stroke-linecap="round" />
<polygon points="413.69,618.55 422.36,621.48 422.36,631.83 413.69,628.90" fill="#aaa" stroke="#111" stroke-width="1.2" stroke-linejoin="round" />
<line x1="414.99" y1="620.86" x2="418.46" y2="622.54" stroke="#111" stroke-width="0.45" stroke-linecap="round" />
<line x1="418.89" y1="622.59" x2="421.06" y2="623.84" stroke="#111" stroke-width="0.45" stroke-linecap="round" />
<line x1="415.43" y1="623.07" x2="417.59" y2="624.32" stroke="#111" stroke-width="0.45" stroke-linecap="round" />
<line x1="418.02" y1="624.36" x2="420.62" y2="625.76" stroke="#111" stroke-width="0.45" stroke-linecap="round" />
<line x1="414.99" y1="625.20" x2="418.02" y2="626.74" stroke="#111" stroke-width="0.45" stroke-linecap="round" />
<line x1="418.46" y1="626.17" x2="421.06" y2="627.56" stroke="#111" stroke-width="0.45" stroke-linecap="round" />
<line x1="415.86" y1="627.56" x2="418.89" y2="629.11" stroke="#111" stroke-width="0.45" stroke-linecap="round" />
<line x1="419.32" y1="628.53" x2="421.06" y2="629.63" stroke="#111" stroke-width="0.45" stroke-linecap="round" />
<polygon points="424.16,622.09 432.83,625.02 432.83,635.37 424.16,632.44" fill="none" stroke="#111" stroke-width="1.2" stroke-linejoin="round" />
<line x1="478.47" y1="593.06" x2="472.62" y2="601.10" stroke="#111" stroke-width="0.5" stroke-linecap="round" />
<line x1="478.47" y1="593.06" x2="474.34" y2="604.47" stroke="#111" stroke-width="0.5" stroke-linecap="round" />
<line x1="478.47" y1="593.06" x2="476.40" y2="606.13" stroke="#111" stroke-width="0.5" stroke-linecap="round" />
<line x1="477.75" y1="590.82" x2="468.22" y2="590.70" stroke="#111" stroke-width="0.5" stroke-linecap="round" />
<line x1="477.75" y1="590.82" x2="468.32" y2="592.16" stroke="#111" stroke-width="0.5" stroke-linecap="round" />
<line x1="477.75" y1="590.82" x2="468.81" y2="588.99" stroke="#111" stroke-width="0.5" stroke-linecap="round" />
<line x1="446.13" y1="641.14" x2="451.98" y2="629.91" stroke="#111" stroke-width="0.5" stroke-linecap="round" />
<line x1="446.13" y1="641.14" x2="454.39" y2="632.24" stroke="#111" stroke-width="0.5" stroke-linecap="round" />
<line x1="446.13" y1="641.14" x2="449.23" y2="629.30" stroke="#111" stroke-width="0.5" stroke-linecap="round" />
<line x1="444.02" y1="609.70" x2="439.32" y2="612.09" stroke="#111" stroke-width="0.5" stroke-linecap="round" />
<line x1="444.02" y1="612.48" x2="440.05" y2="615.52" stroke="#111" stroke-width="0.5" stroke-linecap="round" />
<line x1="444.02" y1="615.27" x2="440.77" y2="618.15" stroke="#111" stroke-width="0.5" stroke-linecap="round" />
<line x1="450.26" y1="609.83" x2="455.42" y2="606.01" stroke="#111" stroke-width="0.55" stroke-linecap="round" />
<line x1="461.61" y1="618.93" x2="466.77" y2="615.11" stroke="#111" stroke-width="0.55" stroke-linecap="round" />
<line x1="471.93" y1="626.02" x2="478.12" y2="627.80" stroke="#111" stroke-width="0.5" stroke-linecap="round" />
<line x1="411.89" y1="601.63" x2="410.08" y2="603.01" stroke="#111" stroke-width="0.5" stroke-linecap="round" />
<line x1="414.42" y1="610.44" x2="412.61" y2="611.82" stroke="#111" stroke-width="0.5" stroke-linecap="round" />
<polygon points="443.40,538.40 409.00,550.60 409.00,590.70 445.10,602.90 479.50,590.70 479.50,550.60" fill="#f2f2f2" stroke="#111" stroke-width="1.3" stroke-linejoin="round" />
<polyline points="409.00,550.60 445.10,562.80 479.50,550.60" fill="none" stroke="#111" stroke-width="1.3" stroke-linejoin="round"/>
<line x1="445.10" y1="562.80" x2="445.10" y2="602.90" stroke="#111" stroke-width="1.3" stroke-linecap="round" />
<polygon points="429.94,557.68 464.34,545.48 454.23,542.06 419.83,554.26" fill="#111" stroke="#111" stroke-width="0.6" stroke-linejoin="round" />
<polygon points="429.94,557.68 419.83,554.26 419.83,570.30 429.94,573.72" fill="#111" stroke="#111" stroke-width="0.6" stroke-linejoin="round" />
<polygon points="413.69,578.65 422.36,581.58 422.36,592.01 413.69,589.08" fill="#aaa" stroke="#111" stroke-width="1.2" stroke-linejoin="round" />
<line x1="414.99" y1="580.97" x2="418.46" y2="582.66" stroke="#111" stroke-width="0.45" stroke-linecap="round" />
<line x1="418.89" y1="582.70" x2="421.06" y2="583.96" stroke="#111" stroke-width="0.45" stroke-linecap="round" />
<line x1="415.43" y1="583.20" x2="417.59" y2="584.45" stroke="#111" stroke-width="0.45" stroke-linecap="round" />
<line x1="418.02" y1="584.49" x2="420.62" y2="585.89" stroke="#111" stroke-width="0.45" stroke-linecap="round" />
<line x1="414.99" y1="585.35" x2="418.02" y2="586.89" stroke="#111" stroke-width="0.45" stroke-linecap="round" />
<line x1="418.46" y1="586.31" x2="421.06" y2="587.71" stroke="#111" stroke-width="0.45" stroke-linecap="round" />
<line x1="415.86" y1="587.72" x2="418.89" y2="589.27" stroke="#111" stroke-width="0.45" stroke-linecap="round" />
<line x1="419.32" y1="588.69" x2="421.06" y2="589.79" stroke="#111" stroke-width="0.45" stroke-linecap="round" />
<polygon points="424.16,582.19 432.83,585.12 432.83,595.54 424.16,592.62" fill="none" stroke="#111" stroke-width="1.2" stroke-linejoin="round" />
<line x1="478.47" y1="552.97" x2="472.62" y2="561.06" stroke="#111" stroke-width="0.5" stroke-linecap="round" />
<line x1="478.47" y1="552.97" x2="474.34" y2="564.46" stroke="#111" stroke-width="0.5" stroke-linecap="round" />
<line x1="478.47" y1="552.97" x2="476.40" y2="566.13" stroke="#111" stroke-width="0.5" stroke-linecap="round" />
<line x1="477.75" y1="550.72" x2="468.22" y2="550.60" stroke="#111" stroke-width="0.5" stroke-linecap="round" />
<line x1="477.75" y1="550.72" x2="468.32" y2="552.06" stroke="#111" stroke-width="0.5" stroke-linecap="round" />
<line x1="477.75" y1="550.72" x2="468.81" y2="548.89" stroke="#111" stroke-width="0.5" stroke-linecap="round" />
<line x1="446.13" y1="601.33" x2="451.98" y2="590.03" stroke="#111" stroke-width="0.5" stroke-linecap="round" />
<line x1="446.13" y1="601.33" x2="454.39" y2="592.39" stroke="#111" stroke-width="0.5" stroke-linecap="round" />
<line x1="446.13" y1="601.33" x2="449.23" y2="589.41" stroke="#111" stroke-width="0.5" stroke-linecap="round" />
<line x1="444.02" y1="569.65" x2="439.32" y2="572.08" stroke="#111" stroke-width="0.5" stroke-linecap="round" />
<line x1="444.02" y1="572.46" x2="440.05" y2="575.53" stroke="#111" stroke-width="0.5" stroke-linecap="round" />
<line x1="444.02" y1="575.27" x2="440.77" y2="578.18" stroke="#111" stroke-width="0.5" stroke-linecap="round" />
<line x1="450.26" y1="569.79" x2="455.42" y2="565.96" stroke="#111" stroke-width="0.55" stroke-linecap="round" />
<line x1="461.61" y1="579.00" x2="466.77" y2="575.16" stroke="#111" stroke-width="0.55" stroke-linecap="round" />
<line x1="471.93" y1="586.17" x2="478.12" y2="587.98" stroke="#111" stroke-width="0.5" stroke-linecap="round" />
<line x1="411.89" y1="561.60" x2="410.08" y2="563.00" stroke="#111" stroke-width="0.5" stroke-linecap="round" />
<line x1="414.42" y1="570.47" x2="412.61" y2="571.87" stroke="#111" stroke-width="0.5" stroke-linecap="round" />
<ellipse cx="476.60" cy="626.30" rx="10.00" ry="14.40" fill="#111" stroke="#111" stroke-width="0.8" />
<ellipse cx="479.90" cy="626.20" rx="7.80" ry="14.00" fill="#f2f2f2" stroke="#111" stroke-width="1.0" />
</g>
<g>
<path d="M655.60,525.40 C657.04,525.72 661.31,526.86 664.21,527.29 C667.11,527.73 669.92,527.39 673.00,528.00 C676.08,528.61 679.54,529.77 682.71,530.94 C685.87,532.10 690.45,534.32 692.00,535.00" fill="none" stroke="#111" stroke-width="0.75" stroke-linejoin="round" stroke-linecap="round" />
<path d="M680.00,540.20 C680.97,540.58 683.84,541.91 685.84,542.48 C687.84,543.04 690.27,543.13 692.00,543.60 C693.73,544.07 694.93,544.54 696.24,545.28 C697.56,546.01 699.29,547.55 699.90,548.00" fill="none" stroke="#111" stroke-width="0.75" stroke-linejoin="round" stroke-linecap="round" />
<path d="M706.80,546.20 C707.23,546.99 708.34,549.48 709.36,550.94 C710.37,552.41 712.07,553.70 712.90,555.00 C713.73,556.30 714.05,557.44 714.34,558.72 C714.62,560.00 714.56,562.04 714.60,562.70" fill="none" stroke="#111" stroke-width="0.75" stroke-linejoin="round" stroke-linecap="round" />
<path d="M692.00,554.00 C693.00,554.31 695.94,555.45 697.97,555.89 C700.01,556.32 702.71,555.65 704.20,556.60 C705.69,557.55 706.19,559.84 706.90,561.57 C707.62,563.30 708.54,565.24 708.50,567.00 C708.46,568.76 707.08,570.36 706.67,572.11 C706.25,573.86 706.77,575.81 706.00,577.50 C705.23,579.19 703.52,580.79 702.07,582.23 C700.62,583.66 699.47,584.37 697.30,586.10 C695.13,587.83 691.67,590.28 689.05,592.60 C686.44,594.92 682.84,598.77 681.60,600.00" fill="none" stroke="#111" stroke-width="0.75" stroke-linejoin="round" stroke-linecap="round" />
<path d="M709.40,584.40 C708.88,585.22 707.13,587.60 706.26,589.33 C705.40,591.07 705.50,592.95 704.20,594.80 C702.90,596.65 700.52,598.72 698.49,600.46 C696.46,602.19 695.29,603.63 692.00,605.20 C688.71,606.77 683.11,608.14 678.78,609.89 C674.44,611.64 670.28,614.35 666.00,615.70 C661.72,617.05 657.41,617.43 653.08,617.99 C648.74,618.56 642.18,618.92 640.00,619.10" fill="none" stroke="#111" stroke-width="0.75" stroke-linejoin="round" stroke-linecap="round" />
<path d="M702.50,607.00 C701.29,607.64 697.55,609.39 695.23,610.84 C692.92,612.29 690.82,614.23 688.60,615.70 C686.38,617.17 684.23,618.54 681.92,619.69 C679.60,620.84 675.90,622.11 674.70,622.60" fill="none" stroke="#111" stroke-width="0.75" stroke-linejoin="round" stroke-linecap="round" />
<path d="M690.30,624.30 C688.97,624.64 684.91,625.46 682.31,626.33 C679.71,627.20 677.38,628.44 674.70,629.50 C672.02,630.56 669.11,631.81 666.22,632.67 C663.34,633.54 660.33,634.31 657.40,634.70 C654.47,635.09 651.54,634.70 648.64,635.00 C645.74,635.30 641.44,636.25 640.00,636.50" fill="none" stroke="#111" stroke-width="0.75" stroke-linejoin="round" stroke-linecap="round" />
<path d="M593.00,547.10 C593.83,546.83 596.41,546.21 598.00,545.50 C599.58,544.78 601.75,543.25 602.50,542.80" fill="none" stroke="#111" stroke-width="0.75" stroke-linejoin="round" stroke-linecap="round" />
<path d="M580.80,558.40 C581.56,558.20 583.92,557.79 585.37,557.21 C586.82,556.62 588.19,555.60 589.50,554.90 C590.81,554.20 591.91,553.46 593.21,553.03 C594.51,552.60 596.62,552.42 597.30,552.30" fill="none" stroke="#111" stroke-width="0.75" stroke-linejoin="round" stroke-linecap="round" />
<path d="M567.80,579.20 C568.11,578.50 569.24,576.47 569.67,575.02 C570.11,573.57 569.92,571.76 570.40,570.50 C570.88,569.24 571.71,568.34 572.58,567.48 C573.44,566.61 575.10,565.66 575.60,565.30" fill="none" stroke="#111" stroke-width="0.75" stroke-linejoin="round" stroke-linecap="round" />
<path d="M577.40,572.30 C577.44,573.32 577.37,576.42 577.66,578.43 C577.94,580.45 578.06,582.60 579.10,584.40 C580.14,586.20 582.46,587.48 583.91,589.22 C585.36,590.95 586.42,593.21 587.80,594.80 C589.18,596.39 590.61,597.62 592.19,598.78 C593.78,599.95 595.18,600.81 597.30,601.80 C599.42,602.79 602.45,603.56 604.90,604.71 C607.35,605.86 609.39,607.64 612.00,608.70 C614.61,609.76 617.68,610.45 620.58,611.04 C623.48,611.62 627.04,612.04 629.40,612.20 C631.76,612.36 632.98,611.87 634.75,612.00 C636.51,612.14 639.12,612.83 640.00,613.00" fill="none" stroke="#111" stroke-width="0.75" stroke-linejoin="round" stroke-linecap="round" />
<path d="M580.80,603.50 C581.92,604.10 585.19,606.08 587.51,607.10 C589.83,608.12 592.31,608.91 594.70,609.60 C597.09,610.29 599.51,610.49 601.83,611.23 C604.15,611.96 606.04,613.16 608.60,614.00 C611.16,614.84 614.28,615.72 617.18,616.29 C620.08,616.86 624.53,617.21 626.00,617.40" fill="none" stroke="#111" stroke-width="0.75" stroke-linejoin="round" stroke-linecap="round" />
<path d="M580.80,612.20 C581.31,612.99 582.67,615.48 583.83,616.93 C585.00,618.38 585.66,619.76 587.80,620.90 C589.94,622.04 593.79,622.64 596.67,623.79 C599.56,624.94 602.43,626.60 605.10,627.80 C607.77,629.00 610.11,630.10 612.71,630.97 C615.31,631.84 617.75,632.62 620.70,633.00 C623.65,633.38 627.19,632.97 630.40,633.25 C633.62,633.54 638.40,634.46 640.00,634.70" fill="none" stroke="#111" stroke-width="0.75" stroke-linejoin="round" stroke-linecap="round" />
<path d="M600.00,619.10 C600.97,619.49 603.83,620.84 605.83,621.43 C607.83,622.01 609.78,622.22 612.00,622.60 C614.22,622.98 616.81,623.15 619.14,623.72 C621.47,624.28 624.86,625.62 626.00,626.00" fill="none" stroke="#111" stroke-width="0.75" stroke-linejoin="round" stroke-linecap="round" />
<path d="M645.00,620.50 C646.26,620.52 650.04,620.77 652.54,620.60 C655.04,620.43 658.76,619.68 660.00,619.50" fill="none" stroke="#111" stroke-width="0.75" stroke-linejoin="round" stroke-linecap="round" />
<path d="M586.60,574.50 C586.75,575.34 587.10,579.47 587.60,581.50 C588.10,583.53 588.62,585.13 589.60,586.70 C590.58,588.27 592.13,589.78 593.50,590.90 C594.87,592.02 596.28,592.48 597.80,593.40 C599.32,594.32 601.60,595.65 602.60,596.40 C603.60,597.15 602.68,597.22 603.80,597.90 C604.92,598.58 607.25,599.55 609.30,600.50 C611.35,601.45 613.67,602.63 616.10,603.60 C618.53,604.57 621.38,605.70 623.90,606.30 C626.42,606.90 629.75,606.92 631.20,607.20 C632.65,607.48 631.37,607.95 632.60,608.00 C633.83,608.05 635.97,607.82 638.60,607.50 C641.23,607.18 645.15,606.75 648.40,606.10 C651.65,605.45 655.27,604.58 658.10,603.60 C660.93,602.62 664.00,600.67 665.40,600.20 C666.80,599.73 665.27,601.23 666.50,600.80 C667.73,600.37 670.45,598.95 672.80,597.60 C675.15,596.25 678.17,594.48 680.60,592.70 C683.03,590.92 685.62,588.65 687.40,586.90 C689.18,585.15 690.27,583.58 691.30,582.20 C692.33,580.82 692.82,580.30 693.60,578.60 C694.38,576.90 695.55,573.34 696.00,572.00 C696.45,570.66 696.42,571.51 696.29,570.54 C696.16,569.56 695.71,567.59 695.20,566.14 C694.68,564.70 694.00,563.26 693.18,561.87 C692.36,560.48 691.39,559.11 690.29,557.80 C689.18,556.49 687.93,555.21 686.55,554.00 C685.18,552.79 683.67,551.62 682.05,550.53 C680.43,549.44 678.69,548.41 676.85,547.45 C675.02,546.50 673.07,545.62 671.05,544.82 C669.03,544.03 666.91,543.31 664.74,542.69 C662.58,542.06 660.32,541.52 658.04,541.07 C655.76,540.63 653.41,540.27 651.05,540.02 C648.69,539.76 646.29,539.60 643.90,539.53 C641.51,539.47 639.09,539.50 636.71,539.63 C634.32,539.76 631.93,539.99 629.60,540.31 C627.26,540.63 624.94,541.04 622.69,541.55 C620.44,542.06 618.23,542.66 616.10,543.34 C613.98,544.02 611.91,544.80 609.95,545.65 C607.99,546.50 606.11,547.43 604.34,548.43 C602.58,549.43 600.91,550.51 599.37,551.65 C597.83,552.78 596.40,553.98 595.11,555.23 C593.83,556.48 592.66,557.79 591.65,559.13 C590.64,560.47 589.77,561.87 589.05,563.28 C588.33,564.69 587.75,566.14 587.34,567.60 C586.92,569.05 586.66,570.54 586.55,572.02 C586.45,573.49 586.70,576.05 586.71,576.46 C586.72,576.88 586.45,573.66 586.60,574.50 Z" fill="#fff" stroke="#111" stroke-width="1.4" stroke-linejoin="round" stroke-linecap="round" />
<path d="M588.5,573 C592,560 600,553 607,551" fill="none" stroke="#111" stroke-width="0.9" stroke-linejoin="round" stroke-linecap="round" />
<path d="M676,552 C686,557 693,565 693.5,577" fill="none" stroke="#111" stroke-width="0.9" stroke-linejoin="round" stroke-linecap="round" />
<polygon points="640.90,525.40 606.00,537.10 606.00,575.10 640.30,586.80 675.20,575.10 675.20,537.10" fill="#fff" stroke="#111" stroke-width="1.3" stroke-linejoin="round" />
<polyline points="606.00,537.10 640.30,548.80 675.20,537.10" fill="none" stroke="#111" stroke-width="1.3" stroke-linejoin="round"/>
<line x1="640.30" y1="548.80" x2="640.30" y2="586.80" stroke="#111" stroke-width="1.3" stroke-linecap="round" />
<polygon points="625.89,543.89 660.79,532.19 651.19,528.91 616.29,540.61" fill="#111" stroke="#111" stroke-width="0.6" stroke-linejoin="round" />
<polygon points="625.89,543.89 616.29,540.61 616.29,553.53 625.89,556.81" fill="#111" stroke="#111" stroke-width="0.6" stroke-linejoin="round" />
<polygon points="610.46,561.42 618.69,564.23 618.69,574.87 610.46,572.06" fill="#fff" stroke="#111" stroke-width="0.95" stroke-linejoin="round" />
<line x1="611.69" y1="563.76" x2="614.99" y2="565.41" stroke="#111" stroke-width="0.45" stroke-linecap="round" />
<line x1="615.40" y1="565.45" x2="617.46" y2="566.68" stroke="#111" stroke-width="0.45" stroke-linecap="round" />
<line x1="612.11" y1="566.03" x2="614.16" y2="567.26" stroke="#111" stroke-width="0.45" stroke-linecap="round" />
<line x1="614.58" y1="567.29" x2="617.04" y2="568.67" stroke="#111" stroke-width="0.45" stroke-linecap="round" />
<line x1="611.69" y1="568.23" x2="614.58" y2="569.74" stroke="#111" stroke-width="0.45" stroke-linecap="round" />
<line x1="614.99" y1="569.14" x2="617.46" y2="570.51" stroke="#111" stroke-width="0.45" stroke-linecap="round" />
<line x1="612.52" y1="570.63" x2="615.40" y2="572.15" stroke="#111" stroke-width="0.45" stroke-linecap="round" />
<line x1="615.81" y1="571.55" x2="617.46" y2="572.64" stroke="#111" stroke-width="0.45" stroke-linecap="round" />
<polygon points="620.41,564.81 628.64,567.62 628.64,578.26 620.41,575.45" fill="none" stroke="#111" stroke-width="0.95" stroke-linejoin="round" />
<line x1="612.00" y1="551.00" x2="618.00" y2="554.00" stroke="#111" stroke-width="0.5" stroke-linecap="round" />
<line x1="611.00" y1="556.00" x2="617.00" y2="558.00" stroke="#111" stroke-width="0.5" stroke-linecap="round" />
<line x1="648.00" y1="556.00" x2="655.00" y2="553.00" stroke="#111" stroke-width="0.5" stroke-linecap="round" />
<line x1="655.00" y1="573.00" x2="662.00" y2="570.00" stroke="#111" stroke-width="0.5" stroke-linecap="round" />
<line x1="669.00" y1="541.00" x2="672.00" y2="547.00" stroke="#111" stroke-width="0.5" stroke-linecap="round" />
<line x1="666.00" y1="541.00" x2="670.00" y2="549.00" stroke="#111" stroke-width="0.5" stroke-linecap="round" />
<path d="M586.50,573.50 A55 34 0 0 0 696.50,573.50 L675.60,564.50 A34.8 17 0 0 1 606.00,564.50 Z" fill="#fff" stroke="none"/>
<path d="M675.60,564.50 A34.8 17 0 0 1 606.00,564.50" fill="none" stroke="#111" stroke-width="1.4"/>
<path d="M586.60,574.50 C586.77,575.67 587.10,579.47 587.60,581.50 C588.10,583.53 588.62,585.13 589.60,586.70 C590.58,588.27 592.13,589.78 593.50,590.90 C594.87,592.02 596.28,592.48 597.80,593.40 C599.32,594.32 601.60,595.65 602.60,596.40 C603.60,597.15 602.68,597.22 603.80,597.90 C604.92,598.58 607.25,599.55 609.30,600.50 C611.35,601.45 613.67,602.63 616.10,603.60 C618.53,604.57 621.38,605.70 623.90,606.30 C626.42,606.90 629.75,606.92 631.20,607.20 C632.65,607.48 631.37,607.95 632.60,608.00 C633.83,608.05 635.97,607.82 638.60,607.50 C641.23,607.18 645.15,606.75 648.40,606.10 C651.65,605.45 655.27,604.58 658.10,603.60 C660.93,602.62 664.00,600.67 665.40,600.20 C666.80,599.73 665.27,601.23 666.50,600.80 C667.73,600.37 670.45,598.95 672.80,597.60 C675.15,596.25 678.17,594.48 680.60,592.70 C683.03,590.92 685.62,588.65 687.40,586.90 C689.18,585.15 690.27,583.58 691.30,582.20 C692.33,580.82 692.82,580.30 693.60,578.60 C694.38,576.90 695.60,573.10 696.00,572.00" fill="none" stroke="#111" stroke-width="1.4" stroke-linejoin="round" stroke-linecap="round" />
<path d="M611,576 C605,583 603,590 603,596" fill="none" stroke="#111" stroke-width="0.9" stroke-linejoin="round" stroke-linecap="round" />
<path d="M630,583 C629,592 630,600 632,606" fill="none" stroke="#111" stroke-width="0.9" stroke-linejoin="round" stroke-linecap="round" />
<path d="M661,580 C664,588 665,595 665,600" fill="none" stroke="#111" stroke-width="0.9" stroke-linejoin="round" stroke-linecap="round" />
<path d="M585.5,575 C590,570 596,567 604,566" fill="none" stroke="#111" stroke-width="0.9" stroke-linejoin="round" stroke-linecap="round" />
<path d="M627,588 L630,583 L633,588" fill="none" stroke="#111" stroke-width="0.5" stroke-linejoin="round" stroke-linecap="round" />
<path d="M664,579 L668,583" fill="none" stroke="#111" stroke-width="0.5" stroke-linejoin="round" stroke-linecap="round" />
<path d="M596,583 L600,579" fill="none" stroke="#111" stroke-width="0.5" stroke-linejoin="round" stroke-linecap="round" />
<path d="M683,572 L688,575" fill="none" stroke="#111" stroke-width="0.5" stroke-linejoin="round" stroke-linecap="round" />
</g>
<g>
<line x1="829.40" y1="633.30" x2="924.50" y2="598.30" stroke="#111" stroke-width="0.8" stroke-linecap="round" />
<ellipse cx="852.80" cy="610.90" rx="5.20" ry="8.60" fill="#111" stroke="#111" stroke-width="0.8" />
<ellipse cx="854.40" cy="610.60" rx="4.60" ry="8.40" fill="#fff" stroke="#111" stroke-width="1.0" />
<ellipse cx="842.30" cy="615.30" rx="5.20" ry="8.60" fill="#111" stroke="#111" stroke-width="0.8" />
<ellipse cx="843.90" cy="615.00" rx="4.60" ry="8.40" fill="#fff" stroke="#111" stroke-width="1.0" />
<path d="M828,614.5 L836,611.8 L839.5,618 L837.5,622.5 L828.3,619 Z" fill="#fff" stroke="#111" stroke-width="0.9" stroke-linejoin="round" stroke-linecap="round" />
<path d="M790,605 L800,609 L798,611 L790,608 Z" fill="#111" stroke="#111" stroke-width="0.6" stroke-linejoin="round" stroke-linecap="round" />
<polygon points="781.10,597.80 818.30,612.20 899.40,581.70 899.40,583.90 818.30,614.60 781.10,600.20" fill="#fff" stroke="#111" stroke-width="1.0" stroke-linejoin="round" />
<polygon points="781.10,597.80 863.30,567.80 899.40,581.70 818.30,612.20" fill="#fff" stroke="#111" stroke-width="1.1" stroke-linejoin="round" />
<line x1="790.40" y1="601.40" x2="872.32" y2="571.27" stroke="#111" stroke-width="0.7" stroke-linecap="round" />
<line x1="799.70" y1="605.00" x2="881.35" y2="574.75" stroke="#111" stroke-width="0.7" stroke-linecap="round" />
<line x1="809.00" y1="608.60" x2="890.38" y2="578.23" stroke="#111" stroke-width="0.7" stroke-linecap="round" />
<path d="M798.00,541.40 L798.00,566.60 A12.5 6.2 0 0 0 823.00,566.60 L823.00,541.40 Z" fill="#fff" stroke="#111" stroke-width="1.2" stroke-linejoin="round" stroke-linecap="round" />
<ellipse cx="810.50" cy="541.40" rx="12.50" ry="6.20" fill="#111" stroke="#111" stroke-width="1.1" />
<path d="M798.00,542.40 A12.5 6.2 0 0 0 823.00,542.40" fill="none" stroke="#fff" stroke-width="0.7"/>
<path d="M798.00,551.00 A12.5 6.2 0 0 0 823.00,551.00" fill="none" stroke="#111" stroke-width="0.6"/>
<path d="M798.00,560.00 A12.5 6.2 0 0 0 823.00,560.00" fill="none" stroke="#111" stroke-width="0.6"/>
<path d="M787.10,549.50 L787.10,575.20 A12.5 6.2 0 0 0 812.10,575.20 L812.10,549.50 Z" fill="#fff" stroke="#111" stroke-width="1.2" stroke-linejoin="round" stroke-linecap="round" />
<ellipse cx="799.60" cy="549.50" rx="12.50" ry="6.20" fill="#111" stroke="#111" stroke-width="1.1" />
<path d="M787.10,550.50 A12.5 6.2 0 0 0 812.10,550.50" fill="none" stroke="#fff" stroke-width="0.7"/>
<path d="M787.10,559.35 A12.5 6.2 0 0 0 812.10,559.35" fill="none" stroke="#111" stroke-width="0.6"/>
<path d="M787.10,568.35 A12.5 6.2 0 0 0 812.10,568.35" fill="none" stroke="#111" stroke-width="0.6"/>
<path d="M834.20,538.10 L834.20,563.80 A12.5 6.2 0 0 0 859.20,563.80 L859.20,538.10 Z" fill="#fff" stroke="#111" stroke-width="1.2" stroke-linejoin="round" stroke-linecap="round" />
<ellipse cx="846.70" cy="538.10" rx="12.50" ry="6.20" fill="#111" stroke="#111" stroke-width="1.1" />
<path d="M834.20,539.10 A12.5 6.2 0 0 0 859.20,539.10" fill="none" stroke="#fff" stroke-width="0.7"/>
<path d="M834.20,547.95 A12.5 6.2 0 0 0 859.20,547.95" fill="none" stroke="#111" stroke-width="0.6"/>
<path d="M834.20,556.95 A12.5 6.2 0 0 0 859.20,556.95" fill="none" stroke="#111" stroke-width="0.6"/>
<polygon points="863.90,537.00 901.40,550.50 901.40,582.80 863.90,567.70" fill="#fff" stroke="#111" stroke-width="1.1" stroke-linejoin="round" />
<polygon points="901.40,550.50 903.00,550.00 903.00,583.00 901.40,582.80" fill="#fff" stroke="#111" stroke-width="0.8" stroke-linejoin="round" />
<line x1="866.00" y1="546.00" x2="885.00" y2="553.00" stroke="#111" stroke-width="0.5" stroke-linecap="round" />
<line x1="870.00" y1="553.00" x2="893.00" y2="561.00" stroke="#111" stroke-width="0.5" stroke-linecap="round" />
<line x1="866.00" y1="560.00" x2="874.00" y2="563.00" stroke="#111" stroke-width="0.5" stroke-linecap="round" />
<polygon points="863.90,537.00 888.30,534.20 923.75,547.40 903.00,550.50" fill="#fff" stroke="#111" stroke-width="1.1" stroke-linejoin="round" />
<line x1="866.00" y1="538.50" x2="900.00" y2="550.50" stroke="#111" stroke-width="1.5" stroke-linecap="round" />
<polygon points="903.00,550.50 923.75,547.40 926.90,550.00 929.50,566.70 929.50,581.80 915.40,586.50 903.00,583.00" fill="#fff" stroke="#111" stroke-width="1.1" stroke-linejoin="round" />
<polygon points="904.50,555.00 922.70,549.50 926.50,565.00 920.60,569.80 916.50,565.10 904.50,569.80" fill="#fff" stroke="#111" stroke-width="0.9" stroke-linejoin="round" />
<line x1="909.00" y1="562.00" x2="913.00" y2="556.00" stroke="#111" stroke-width="0.5" stroke-linecap="round" />
<line x1="910.50" y1="563.00" x2="915.00" y2="557.00" stroke="#111" stroke-width="0.5" stroke-linecap="round" />
<polygon points="929.50,554.20 933.60,555.50 933.60,562.00 929.50,561.00" fill="#111" stroke="#111" stroke-width="0.6" stroke-linejoin="round" />
<polygon points="923.20,576.00 929.00,574.50 929.00,578.50 924.00,580.00" fill="#111" stroke="#111" stroke-width="0.6" stroke-linejoin="round" />
<path d="M893.5,585.5 L905,581.5 L907,590 L905,596 L893,592.5 Z" fill="#fff" stroke="#111" stroke-width="0.9" stroke-linejoin="round" stroke-linecap="round" />
<ellipse cx="907.80" cy="590.30" rx="5.60" ry="9.30" fill="#111" stroke="#111" stroke-width="0.8" />
<ellipse cx="909.40" cy="589.60" rx="4.80" ry="9.00" fill="#fff" stroke="#111" stroke-width="1.0" />
</g>
<g>
<polygon points="995.00,605.60 1068.50,631.80 1137.80,607.60 1137.80,611.80 1068.50,636.30 995.00,609.80" fill="#111" stroke="#111" stroke-width="1.0" stroke-linejoin="round" />
<polygon points="995.00,605.60 1066.00,579.00 1137.80,607.60 1068.50,631.80" fill="#fff" stroke="#111" stroke-width="1.0" stroke-linejoin="round" />
<polygon points="1033.80,559.50 1002.50,571.00 1003.50,605.40 1033.70,616.90 1065.00,605.40 1064.00,571.00" fill="#fff" stroke="#111" stroke-width="1.3" stroke-linejoin="round" />
<polyline points="1002.50,571.00 1032.70,582.50 1064.00,571.00" fill="none" stroke="#111" stroke-width="1.3" stroke-linejoin="round"/>
<line x1="1032.70" y1="582.50" x2="1033.70" y2="616.90" stroke="#111" stroke-width="1.3" stroke-linecap="round" />
<polygon points="1020.62,577.90 1051.92,566.40 1042.86,562.95 1011.56,574.45" fill="#111" stroke="#111" stroke-width="0.6" stroke-linejoin="round" />
<polygon points="1020.62,577.90 1011.56,574.45 1011.96,588.21 1021.02,591.66" fill="#111" stroke="#111" stroke-width="0.6" stroke-linejoin="round" />
<polygon points="1007.11,595.89 1014.35,598.65 1014.62,607.93 1007.38,605.17" fill="#999" stroke="#111" stroke-width="1.3" stroke-linejoin="round" />
<line x1="1008.24" y1="597.97" x2="1011.15" y2="599.54" stroke="#111" stroke-width="0.45" stroke-linecap="round" />
<line x1="1011.51" y1="599.59" x2="1013.34" y2="600.74" stroke="#111" stroke-width="0.45" stroke-linecap="round" />
<line x1="1008.66" y1="599.97" x2="1010.48" y2="601.12" stroke="#111" stroke-width="0.45" stroke-linecap="round" />
<line x1="1010.84" y1="601.17" x2="1013.03" y2="602.46" stroke="#111" stroke-width="0.45" stroke-linecap="round" />
<line x1="1008.36" y1="601.87" x2="1010.91" y2="603.30" stroke="#111" stroke-width="0.45" stroke-linecap="round" />
<line x1="1011.25" y1="602.79" x2="1013.44" y2="604.08" stroke="#111" stroke-width="0.45" stroke-linecap="round" />
<line x1="1009.13" y1="604.01" x2="1011.68" y2="605.44" stroke="#111" stroke-width="0.45" stroke-linecap="round" />
<line x1="1012.03" y1="604.93" x2="1013.49" y2="605.94" stroke="#111" stroke-width="0.45" stroke-linecap="round" />
<polygon points="1015.86,599.22 1023.11,601.98 1023.38,611.27 1016.13,608.51" fill="none" stroke="#111" stroke-width="1.3" stroke-linejoin="round" />
<line x1="1063.11" y1="573.07" x2="1057.94" y2="580.18" stroke="#111" stroke-width="0.5" stroke-linecap="round" />
<line x1="1063.11" y1="573.07" x2="1059.61" y2="583.05" stroke="#111" stroke-width="0.5" stroke-linecap="round" />
<line x1="1063.11" y1="573.07" x2="1061.54" y2="584.42" stroke="#111" stroke-width="0.5" stroke-linecap="round" />
<line x1="1062.46" y1="571.12" x2="1054.16" y2="571.00" stroke="#111" stroke-width="0.5" stroke-linecap="round" />
<line x1="1062.46" y1="571.12" x2="1054.09" y2="572.38" stroke="#111" stroke-width="0.5" stroke-linecap="round" />
<line x1="1062.46" y1="571.12" x2="1054.85" y2="569.39" stroke="#111" stroke-width="0.5" stroke-linecap="round" />
<line x1="1034.61" y1="615.52" x2="1039.70" y2="605.66" stroke="#111" stroke-width="0.5" stroke-linecap="round" />
<line x1="1034.61" y1="615.52" x2="1041.97" y2="607.60" stroke="#111" stroke-width="0.5" stroke-linecap="round" />
<line x1="1034.61" y1="615.52" x2="1037.16" y2="605.20" stroke="#111" stroke-width="0.5" stroke-linecap="round" />
<line x1="1031.97" y1="588.35" x2="1028.15" y2="590.29" stroke="#111" stroke-width="0.5" stroke-linecap="round" />
<line x1="1032.04" y1="590.75" x2="1028.83" y2="593.27" stroke="#111" stroke-width="0.5" stroke-linecap="round" />
<line x1="1032.11" y1="593.16" x2="1029.50" y2="595.57" stroke="#111" stroke-width="0.5" stroke-linecap="round" />
<line x1="1037.62" y1="588.34" x2="1042.26" y2="584.90" stroke="#111" stroke-width="0.55" stroke-linecap="round" />
<line x1="1048.27" y1="595.90" x2="1052.92" y2="592.46" stroke="#111" stroke-width="0.55" stroke-linecap="round" />
<line x1="1057.93" y1="601.74" x2="1063.67" y2="603.11" stroke="#111" stroke-width="0.5" stroke-linecap="round" />
<line x1="1005.17" y1="580.52" x2="1003.71" y2="581.67" stroke="#111" stroke-width="0.5" stroke-linecap="round" />
<line x1="1007.48" y1="588.21" x2="1006.02" y2="589.35" stroke="#111" stroke-width="0.5" stroke-linecap="round" />
<polygon points="1096.25,559.50 1065.00,571.00 1066.00,605.40 1097.25,616.90 1128.50,605.40 1127.50,571.00" fill="#fff" stroke="#111" stroke-width="1.3" stroke-linejoin="round" />
<polyline points="1065.00,571.00 1096.25,582.50 1127.50,571.00" fill="none" stroke="#111" stroke-width="1.3" stroke-linejoin="round"/>
<line x1="1096.25" y1="582.50" x2="1097.25" y2="616.90" stroke="#111" stroke-width="1.3" stroke-linecap="round" />
<polygon points="1083.75,577.90 1115.00,566.40 1105.62,562.95 1074.38,574.45" fill="#111" stroke="#111" stroke-width="0.6" stroke-linejoin="round" />
<polygon points="1083.75,577.90 1074.38,574.45 1074.78,588.21 1084.15,591.66" fill="#111" stroke="#111" stroke-width="0.6" stroke-linejoin="round" />
<polygon points="1069.74,595.89 1077.24,598.65 1077.51,607.93 1070.01,605.17" fill="#999" stroke="#111" stroke-width="1.3" stroke-linejoin="round" />
<line x1="1070.92" y1="597.97" x2="1073.93" y2="599.54" stroke="#111" stroke-width="0.45" stroke-linecap="round" />
<line x1="1074.30" y1="599.59" x2="1076.19" y2="600.74" stroke="#111" stroke-width="0.45" stroke-linecap="round" />
<line x1="1071.35" y1="599.97" x2="1073.23" y2="601.12" stroke="#111" stroke-width="0.45" stroke-linecap="round" />
<line x1="1073.61" y1="601.17" x2="1075.87" y2="602.46" stroke="#111" stroke-width="0.45" stroke-linecap="round" />
<line x1="1071.03" y1="601.87" x2="1073.67" y2="603.30" stroke="#111" stroke-width="0.45" stroke-linecap="round" />
<line x1="1074.02" y1="602.79" x2="1076.29" y2="604.08" stroke="#111" stroke-width="0.45" stroke-linecap="round" />
<line x1="1071.83" y1="604.01" x2="1074.47" y2="605.44" stroke="#111" stroke-width="0.45" stroke-linecap="round" />
<line x1="1074.83" y1="604.93" x2="1076.34" y2="605.94" stroke="#111" stroke-width="0.45" stroke-linecap="round" />
<polygon points="1078.81,599.22 1086.31,601.98 1086.58,611.27 1079.08,608.51" fill="none" stroke="#111" stroke-width="1.3" stroke-linejoin="round" />
<line x1="1126.61" y1="573.07" x2="1121.45" y2="580.18" stroke="#111" stroke-width="0.5" stroke-linecap="round" />
<line x1="1126.61" y1="573.07" x2="1123.11" y2="583.05" stroke="#111" stroke-width="0.5" stroke-linecap="round" />
<line x1="1126.61" y1="573.07" x2="1125.05" y2="584.42" stroke="#111" stroke-width="0.5" stroke-linecap="round" />
<line x1="1125.94" y1="571.12" x2="1117.50" y2="571.00" stroke="#111" stroke-width="0.5" stroke-linecap="round" />
<line x1="1125.94" y1="571.12" x2="1117.50" y2="572.38" stroke="#111" stroke-width="0.5" stroke-linecap="round" />
<line x1="1125.94" y1="571.12" x2="1118.12" y2="569.39" stroke="#111" stroke-width="0.5" stroke-linecap="round" />
<line x1="1098.16" y1="615.52" x2="1103.24" y2="605.66" stroke="#111" stroke-width="0.5" stroke-linecap="round" />
<line x1="1098.16" y1="615.52" x2="1105.51" y2="607.60" stroke="#111" stroke-width="0.5" stroke-linecap="round" />
<line x1="1098.16" y1="615.52" x2="1100.70" y2="605.20" stroke="#111" stroke-width="0.5" stroke-linecap="round" />
<line x1="1095.49" y1="588.35" x2="1091.53" y2="590.29" stroke="#111" stroke-width="0.5" stroke-linecap="round" />
<line x1="1095.56" y1="590.75" x2="1092.23" y2="593.27" stroke="#111" stroke-width="0.5" stroke-linecap="round" />
<line x1="1095.63" y1="593.16" x2="1092.92" y2="595.57" stroke="#111" stroke-width="0.5" stroke-linecap="round" />
<line x1="1101.16" y1="588.34" x2="1105.80" y2="584.90" stroke="#111" stroke-width="0.55" stroke-linecap="round" />
<line x1="1111.80" y1="595.90" x2="1116.44" y2="592.46" stroke="#111" stroke-width="0.55" stroke-linecap="round" />
<line x1="1121.44" y1="601.74" x2="1127.17" y2="603.11" stroke="#111" stroke-width="0.5" stroke-linecap="round" />
<line x1="1067.75" y1="580.52" x2="1066.24" y2="581.67" stroke="#111" stroke-width="0.5" stroke-linecap="round" />
<line x1="1070.14" y1="588.21" x2="1068.62" y2="589.35" stroke="#111" stroke-width="0.5" stroke-linecap="round" />
<polygon points="1065.00,511.70 1033.75,524.20 1033.75,557.50 1065.00,570.00 1096.25,557.50 1096.25,524.20" fill="#fff" stroke="#111" stroke-width="1.3" stroke-linejoin="round" />
<polyline points="1033.75,524.20 1065.00,536.70 1096.25,524.20" fill="none" stroke="#111" stroke-width="1.3" stroke-linejoin="round"/>
<line x1="1065.00" y1="536.70" x2="1065.00" y2="570.00" stroke="#111" stroke-width="1.3" stroke-linecap="round" />
<polygon points="1077.50,531.70 1046.25,519.20 1055.62,515.45 1086.88,527.95" fill="#111" stroke="#111" stroke-width="0.6" stroke-linejoin="round" />
<polygon points="1077.50,531.70 1086.88,527.95 1086.88,541.27 1077.50,545.02" fill="#111" stroke="#111" stroke-width="0.6" stroke-linejoin="round" />
<polygon points="1084.69,551.47 1092.19,548.47 1092.19,557.46 1084.69,560.46" fill="#999" stroke="#111" stroke-width="1.3" stroke-linejoin="round" />
<line x1="1085.81" y1="552.64" x2="1088.81" y2="551.89" stroke="#111" stroke-width="0.45" stroke-linecap="round" />
<line x1="1089.19" y1="551.65" x2="1091.06" y2="551.35" stroke="#111" stroke-width="0.45" stroke-linecap="round" />
<line x1="1086.19" y1="554.29" x2="1088.06" y2="553.99" stroke="#111" stroke-width="0.45" stroke-linecap="round" />
<line x1="1088.44" y1="553.75" x2="1090.69" y2="553.29" stroke="#111" stroke-width="0.45" stroke-linecap="round" />
<line x1="1085.81" y1="556.41" x2="1088.44" y2="555.81" stroke="#111" stroke-width="0.45" stroke-linecap="round" />
<line x1="1088.81" y1="555.03" x2="1091.06" y2="554.58" stroke="#111" stroke-width="0.45" stroke-linecap="round" />
<line x1="1086.56" y1="557.91" x2="1089.19" y2="557.31" stroke="#111" stroke-width="0.45" stroke-linecap="round" />
<line x1="1089.56" y1="556.53" x2="1091.06" y2="556.38" stroke="#111" stroke-width="0.45" stroke-linecap="round" />
<polygon points="1075.62,555.09 1083.12,552.09 1083.12,561.09 1075.62,564.09" fill="none" stroke="#111" stroke-width="1.3" stroke-linejoin="round" />
<line x1="1095.31" y1="526.24" x2="1090.00" y2="533.36" stroke="#111" stroke-width="0.5" stroke-linecap="round" />
<line x1="1095.31" y1="526.24" x2="1091.56" y2="536.07" stroke="#111" stroke-width="0.5" stroke-linecap="round" />
<line x1="1095.31" y1="526.24" x2="1093.44" y2="537.31" stroke="#111" stroke-width="0.5" stroke-linecap="round" />
<line x1="1094.69" y1="524.33" x2="1086.25" y2="524.20" stroke="#111" stroke-width="0.5" stroke-linecap="round" />
<line x1="1094.69" y1="524.33" x2="1086.25" y2="525.70" stroke="#111" stroke-width="0.5" stroke-linecap="round" />
<line x1="1094.69" y1="524.33" x2="1086.88" y2="522.45" stroke="#111" stroke-width="0.5" stroke-linecap="round" />
<line x1="1065.94" y1="568.63" x2="1071.25" y2="558.84" stroke="#111" stroke-width="0.5" stroke-linecap="round" />
<line x1="1065.94" y1="568.63" x2="1073.44" y2="560.63" stroke="#111" stroke-width="0.5" stroke-linecap="round" />
<line x1="1065.94" y1="568.63" x2="1068.75" y2="558.51" stroke="#111" stroke-width="0.5" stroke-linecap="round" />
<line x1="1064.06" y1="542.32" x2="1060.00" y2="544.02" stroke="#111" stroke-width="0.5" stroke-linecap="round" />
<line x1="1064.06" y1="544.65" x2="1060.62" y2="546.94" stroke="#111" stroke-width="0.5" stroke-linecap="round" />
<line x1="1064.06" y1="546.98" x2="1061.25" y2="549.19" stroke="#111" stroke-width="0.5" stroke-linecap="round" />
<line x1="1069.69" y1="542.15" x2="1074.38" y2="538.61" stroke="#111" stroke-width="0.55" stroke-linecap="round" />
<line x1="1080.00" y1="549.02" x2="1084.69" y2="545.48" stroke="#111" stroke-width="0.55" stroke-linecap="round" />
<line x1="1089.38" y1="554.26" x2="1095.00" y2="555.34" stroke="#111" stroke-width="0.5" stroke-linecap="round" />
<line x1="1036.25" y1="533.53" x2="1034.69" y2="534.57" stroke="#111" stroke-width="0.5" stroke-linecap="round" />
<line x1="1038.44" y1="541.06" x2="1036.88" y2="542.10" stroke="#111" stroke-width="0.5" stroke-linecap="round" />
<polygon points="1112.60,529.00 1115.80,530.00 1115.80,566.50 1112.60,565.50" fill="#111" stroke="#111" stroke-width="0.6" stroke-linejoin="round" />
<path d="M1100.20,525.30 C1100.23,524.00 1100.00,520.02 1100.40,517.50 C1100.80,514.98 1101.45,512.07 1102.60,510.20 C1103.75,508.33 1105.35,507.17 1107.30,506.30 C1109.25,505.43 1111.98,504.98 1114.30,505.00 C1116.62,505.02 1119.10,505.48 1121.20,506.40 C1123.30,507.32 1125.23,508.90 1126.90,510.50 C1128.57,512.10 1130.05,514.02 1131.20,516.00 C1132.35,517.98 1133.18,520.23 1133.80,522.40 C1134.42,524.57 1134.75,526.73 1134.90,529.00 C1135.05,531.27 1134.73,534.83 1134.70,536.00 Z" fill="#fff" stroke="#111" stroke-width="1.1" stroke-linejoin="round" stroke-linecap="round" />
<path d="M1111.97,505.43 C1112.16,505.40 1112.74,505.29 1113.13,505.22 C1113.52,505.14 1113.91,505.00 1114.30,505.00 C1114.69,505.00 1115.07,505.16 1115.45,505.23 C1115.83,505.31 1116.22,505.39 1116.60,505.47 C1116.98,505.54 1117.37,505.62 1117.75,505.70 C1118.13,505.78 1118.52,505.86 1118.90,505.93 C1119.28,506.01 1119.67,506.09 1120.05,506.17 C1120.43,506.24 1120.85,506.25 1121.20,506.40 C1121.55,506.55 1121.83,506.86 1122.15,507.08 C1122.47,507.31 1122.78,507.54 1123.10,507.77 C1123.42,507.99 1123.73,508.22 1124.05,508.45 C1124.37,508.68 1124.68,508.91 1125.00,509.13 C1125.32,509.36 1125.63,509.59 1125.95,509.82 C1126.27,510.04 1126.62,510.23 1126.90,510.50 C1127.18,510.77 1127.38,511.11 1127.62,511.42 C1127.86,511.72 1128.09,512.03 1128.33,512.33 C1128.57,512.64 1128.81,512.94 1129.05,513.25 C1129.29,513.56 1129.53,513.86 1129.77,514.17 C1130.01,514.47 1130.24,514.78 1130.48,515.08 C1130.72,515.39 1131.01,515.67 1131.20,516.00 C1131.39,516.33 1131.49,516.71 1131.63,517.07 C1131.78,517.42 1131.92,517.78 1132.07,518.13 C1132.21,518.49 1132.36,518.84 1132.50,519.20 C1132.64,519.56 1132.79,519.91 1132.93,520.27 C1133.08,520.62 1133.22,520.98 1133.37,521.33 C1133.51,521.69 1133.70,522.04 1133.80,522.40 C1133.90,522.76 1133.92,523.13 1133.98,523.50 C1134.04,523.87 1134.11,524.23 1134.17,524.60 C1134.23,524.97 1134.29,525.33 1134.35,525.70 C1134.41,526.07 1134.47,526.43 1134.53,526.80 C1134.59,527.17 1134.66,527.53 1134.72,527.90 C1134.78,528.27 1134.88,528.62 1134.90,529.00 C1134.93,529.38 1134.88,529.78 1134.87,530.17 C1134.86,530.56 1134.84,530.94 1134.83,531.33 C1134.82,531.72 1134.81,532.11 1134.80,532.50 C1134.79,532.89 1134.78,533.28 1134.77,533.67 C1134.76,534.06 1134.74,534.44 1134.73,534.83 C1134.72,535.22 1134.71,535.81 1134.70,536.00" fill="none" stroke="#111" stroke-width="2.4" stroke-linejoin="round" stroke-linecap="round" />
<line x1="1102.87" y1="522.79" x2="1101.50" y2="522.05" stroke="#111" stroke-width="0.55" stroke-linecap="round" />
<line x1="1103.80" y1="520.13" x2="1101.59" y2="518.42" stroke="#111" stroke-width="0.55" stroke-linecap="round" />
<line x1="1103.88" y1="516.37" x2="1102.61" y2="515.03" stroke="#111" stroke-width="0.55" stroke-linecap="round" />
<line x1="1105.56" y1="514.29" x2="1103.64" y2="511.63" stroke="#111" stroke-width="0.55" stroke-linecap="round" />
<line x1="1106.82" y1="511.61" x2="1105.82" y2="509.82" stroke="#111" stroke-width="0.55" stroke-linecap="round" />
<line x1="1109.32" y1="511.17" x2="1108.01" y2="508.00" stroke="#111" stroke-width="0.55" stroke-linecap="round" />
<line x1="1111.79" y1="509.40" x2="1111.26" y2="507.40" stroke="#111" stroke-width="0.55" stroke-linecap="round" />
<line x1="1114.92" y1="510.13" x2="1114.67" y2="508.08" stroke="#111" stroke-width="0.55" stroke-linecap="round" />
<line x1="1117.70" y1="509.44" x2="1117.71" y2="508.69" stroke="#111" stroke-width="0.55" stroke-linecap="round" />
<line x1="1120.44" y1="511.25" x2="1120.74" y2="509.31" stroke="#111" stroke-width="0.55" stroke-linecap="round" />
<line x1="1123.05" y1="511.78" x2="1123.25" y2="511.11" stroke="#111" stroke-width="0.55" stroke-linecap="round" />
<line x1="1125.00" y1="514.53" x2="1125.76" y2="512.92" stroke="#111" stroke-width="0.55" stroke-linecap="round" />
<line x1="1127.30" y1="515.86" x2="1127.65" y2="515.34" stroke="#111" stroke-width="0.55" stroke-linecap="round" />
<line x1="1128.44" y1="518.93" x2="1129.54" y2="517.76" stroke="#111" stroke-width="0.55" stroke-linecap="round" />
<line x1="1130.24" y1="520.92" x2="1130.69" y2="520.57" stroke="#111" stroke-width="0.55" stroke-linecap="round" />
<line x1="1130.52" y1="524.05" x2="1131.83" y2="523.39" stroke="#111" stroke-width="0.55" stroke-linecap="round" />
<line x1="1131.81" y1="526.44" x2="1132.32" y2="526.29" stroke="#111" stroke-width="0.55" stroke-linecap="round" />
<line x1="1131.40" y1="529.33" x2="1132.80" y2="529.20" stroke="#111" stroke-width="0.55" stroke-linecap="round" />
<line x1="1132.19" y1="532.22" x2="1132.71" y2="532.28" stroke="#111" stroke-width="0.55" stroke-linecap="round" />
<line x1="1109.40" y1="514.10" x2="1113.80" y2="526.20" stroke="#111" stroke-width="0.9" stroke-linecap="round" />
</g>
</svg>
</body></html>
